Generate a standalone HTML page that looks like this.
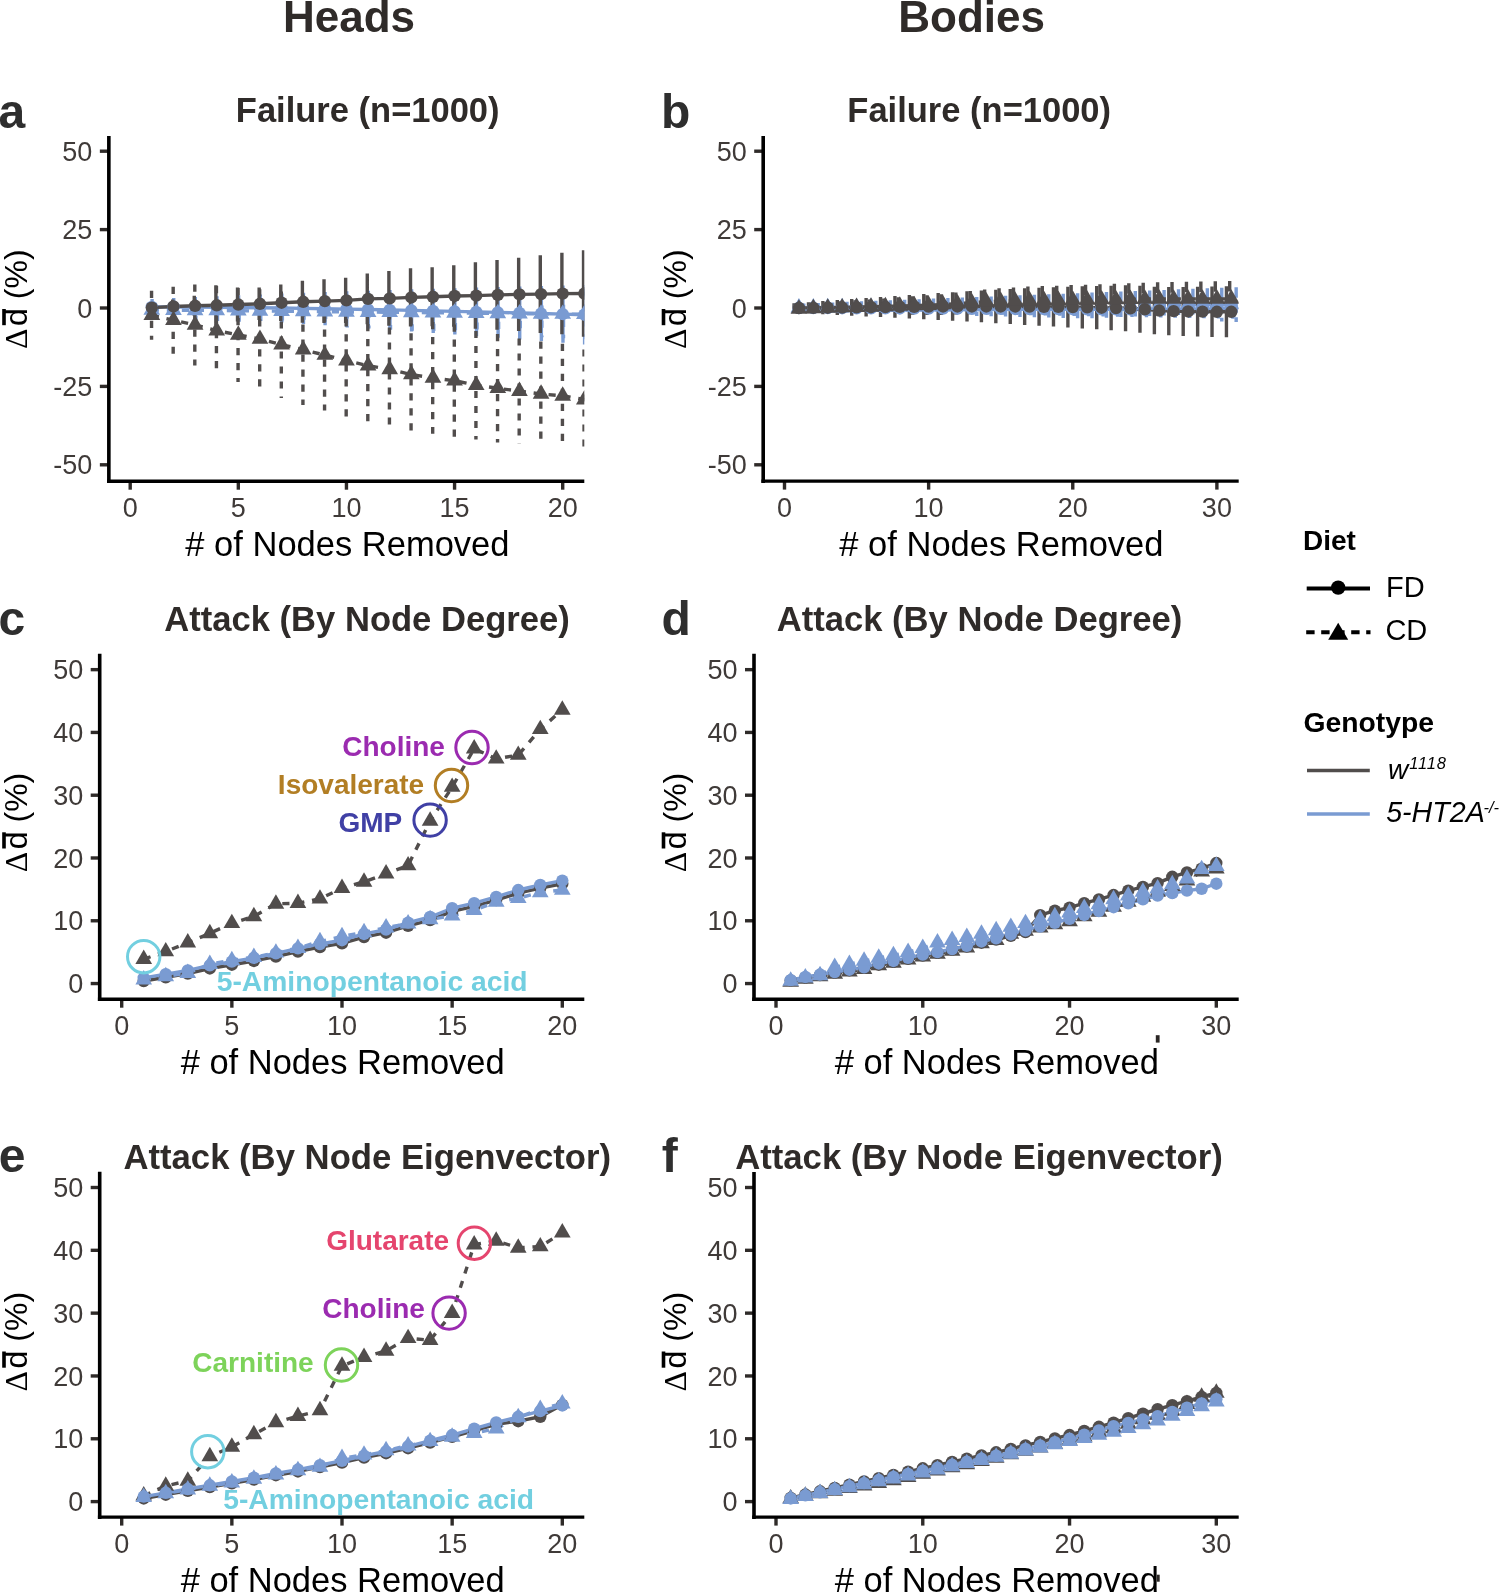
<!DOCTYPE html>
<html><head><meta charset="utf-8"><title>Network robustness</title>
<style>html,body{margin:0;padding:0;background:#fff;overflow:hidden;}svg{display:block;will-change:transform;}</style>
</head><body>
<svg width="1499" height="1593" viewBox="0 0 1499 1593">
<rect width="1499" height="1593" fill="#fff"/>
<text x="349" y="32" font-size="44" font-weight="bold" font-style="normal" text-anchor="middle" fill="#2f2b29" font-family='"Liberation Sans", sans-serif'>Heads</text>
<text x="971.7" y="32" font-size="44" font-weight="bold" font-style="normal" text-anchor="middle" fill="#2f2b29" font-family='"Liberation Sans", sans-serif'>Bodies</text>
<text x="-1.5" y="128.3" font-size="48" font-weight="bold" font-style="normal" text-anchor="start" fill="#2e2e2e" font-family='"Liberation Sans", sans-serif'>a</text>
<text x="661" y="128.3" font-size="48" font-weight="bold" font-style="normal" text-anchor="start" fill="#2e2e2e" font-family='"Liberation Sans", sans-serif'>b</text>
<text x="-1.5" y="635.2" font-size="48" font-weight="bold" font-style="normal" text-anchor="start" fill="#2e2e2e" font-family='"Liberation Sans", sans-serif'>c</text>
<text x="661.5" y="634.9" font-size="48" font-weight="bold" font-style="normal" text-anchor="start" fill="#2e2e2e" font-family='"Liberation Sans", sans-serif'>d</text>
<text x="-1.2" y="1172.2" font-size="48" font-weight="bold" font-style="normal" text-anchor="start" fill="#2e2e2e" font-family='"Liberation Sans", sans-serif'>e</text>
<text x="661.8" y="1171.6" font-size="48" font-weight="bold" font-style="normal" text-anchor="start" fill="#2e2e2e" font-family='"Liberation Sans", sans-serif'>f</text>
<text x="367.7" y="121.6" font-size="34.5" font-weight="bold" font-style="normal" text-anchor="middle" fill="#2f2b29" font-family='"Liberation Sans", sans-serif'>Failure (n=1000)</text>
<text x="979.2" y="121.6" font-size="34.5" font-weight="bold" font-style="normal" text-anchor="middle" fill="#2f2b29" font-family='"Liberation Sans", sans-serif'>Failure (n=1000)</text>
<text x="367" y="630.8" font-size="34.6" font-weight="bold" font-style="normal" text-anchor="middle" fill="#2f2b29" font-family='"Liberation Sans", sans-serif'>Attack (By Node Degree)</text>
<text x="979.5" y="630.8" font-size="34.6" font-weight="bold" font-style="normal" text-anchor="middle" fill="#2f2b29" font-family='"Liberation Sans", sans-serif'>Attack (By Node Degree)</text>
<text x="367.25" y="1169" font-size="34.7" font-weight="bold" font-style="normal" text-anchor="middle" fill="#2f2b29" font-family='"Liberation Sans", sans-serif'>Attack (By Node Eigenvector)</text>
<text x="979" y="1169" font-size="34.7" font-weight="bold" font-style="normal" text-anchor="middle" fill="#2f2b29" font-family='"Liberation Sans", sans-serif'>Attack (By Node Eigenvector)</text>
<clipPath id="clipa"><rect x="110.65" y="136" width="473.65" height="343.5"/></clipPath>
<g clip-path="url(#clipa)">
<path d="M152.09 299.06V314.74M173.72 298.03V315.9M195.34 297.06V317.13M216.97 296.15V318.41M238.59 295.27V319.73M260.22 294.43V321.08M281.84 293.62V322.47M303.47 292.84V323.89M325.09 292.09V325.33M346.72 291.37V326.81M368.34 290.67V328.3M389.97 290V329.83M411.59 289.35V331.38M433.22 288.73V332.95M454.84 288.13V334.54M476.47 287.55V336.15M498.09 286.99V337.79M519.72 286.45V339.45M541.35 285.93V341.12M562.97 285.43V342.82M584.6 284.95V344.53" stroke="#7a9bd2" stroke-width="3.4" fill="none" stroke-linecap="butt"/>
<path d="M152.62 302.04V317.72M174.25 301.4V318.8M195.88 300.76V319.89M217.5 300.11V320.97M239.12 299.47V322.05M260.75 298.83V323.13M282.38 298.18V324.21M304 297.54V325.3M325.62 296.9V326.38M347.25 296.26V327.46M368.88 295.61V328.54M390.5 294.97V329.62M412.12 294.33V330.7M433.75 293.68V331.79M455.38 293.04V332.87M477 292.4V333.95M498.62 291.76V335.03M520.25 291.11V336.11M541.88 290.47V337.2M563.5 289.83V338.28M585.12 289.18V339.36" stroke="#7a9bd2" stroke-width="3.4" fill="none" stroke-linecap="butt" stroke-dasharray="7.2,7.8"/>
<path d="M151.02 302.57V312.61M172.65 299.6V313.39M194.27 295.77V315.84M215.9 285.23V325.37M237.52 287.62V321.48M259.15 287.49V320.1M280.77 284.51V320.89M302.4 280.78V322.8M324.02 279.15V323.05M345.65 277.83V322.99M367.27 273.5V324.31M388.9 271.12V325.69M410.52 268.17V326.5M432.15 267.33V326.28M453.77 265.26V326.72M475.4 262.37V328.85M497.02 260.08V329.7M518.65 257.7V331.08M540.28 255.22V332.99M561.9 252.84V334.37M583.53 250.23V336.79" stroke="#514d4c" stroke-width="3.4" fill="none" stroke-linecap="butt"/>
<path d="M151.55 290.75V339.67M173.18 286.68V353.79M194.8 284.48V365.39M216.43 286.05V375.11M238.05 287.93V382.01M259.68 289.18V388.91M281.31 291.38V398M302.93 294.52V404.9M324.56 299.53V410.55M346.18 304.24V417.13M367.81 308.94V422.46M389.43 312.39V426.54M411.06 318.35V430.62M432.68 322.11V433.75M454.31 324.62V436.89M475.93 330.89V439.4M497.56 334.03V442.53M519.18 338.42V443.79M540.81 341.56V446.3M562.43 343.75V447.87M584.06 349.4V449.75" stroke="#514d4c" stroke-width="3.4" fill="none" stroke-linecap="butt" stroke-dasharray="7.2,7.8"/>
<polyline points="151.82,306.9 173.45,306.97 195.07,307.1 216.7,307.28 238.32,307.5 259.95,307.76 281.57,308.04 303.2,308.36 324.82,308.71 346.45,309.09 368.07,309.49 389.7,309.91 411.32,310.36 432.95,310.84 454.57,311.33 476.2,311.85 497.82,312.39 519.45,312.95 541.08,313.53 562.7,314.12 584.33,314.74" stroke="#7a9bd2" stroke-width="3.4" fill="none" stroke-linejoin="round"/>
<polyline points="151.82,309.88 173.45,310.1 195.07,310.32 216.7,310.54 238.32,310.76 259.95,310.98 281.57,311.2 303.2,311.42 324.82,311.64 346.45,311.86 368.07,312.08 389.7,312.3 411.32,312.52 432.95,312.74 454.57,312.95 476.2,313.17 497.82,313.39 519.45,313.61 541.08,313.83 562.7,314.05 584.33,314.27" stroke="#7a9bd2" stroke-width="3.4" fill="none" stroke-linejoin="round" stroke-dasharray="7.2,7.8"/>
<polyline points="151.82,307.59 173.45,306.49 195.07,305.8 216.7,305.3 238.32,304.55 259.95,303.8 281.57,302.7 303.2,301.79 324.82,301.1 346.45,300.41 368.07,298.91 389.7,298.4 411.32,297.34 432.95,296.8 454.57,295.99 476.2,295.61 497.82,294.89 519.45,294.39 541.08,294.11 562.7,293.61 584.33,293.51" stroke="#514d4c" stroke-width="3.4" fill="none" stroke-linejoin="round"/>
<polyline points="151.82,315.21 173.45,320.23 195.07,324.93 216.7,330.58 238.32,334.97 259.95,339.05 281.57,344.69 303.2,349.71 324.82,355.04 346.45,360.68 368.07,365.7 389.7,369.47 411.32,374.48 432.95,377.93 454.57,380.76 476.2,385.15 497.82,388.28 519.45,391.1 541.08,393.93 562.7,395.81 584.33,399.57" stroke="#514d4c" stroke-width="3.4" fill="none" stroke-linejoin="round" stroke-dasharray="7.2,7.8"/>
<g fill="#7a9bd2"><circle cx="151.82" cy="306.9" r="6.2"/><circle cx="173.45" cy="306.97" r="6.2"/><circle cx="195.07" cy="307.1" r="6.2"/><circle cx="216.7" cy="307.28" r="6.2"/><circle cx="238.32" cy="307.5" r="6.2"/><circle cx="259.95" cy="307.76" r="6.2"/><circle cx="281.57" cy="308.04" r="6.2"/><circle cx="303.2" cy="308.36" r="6.2"/><circle cx="324.82" cy="308.71" r="6.2"/><circle cx="346.45" cy="309.09" r="6.2"/><circle cx="368.07" cy="309.49" r="6.2"/><circle cx="389.7" cy="309.91" r="6.2"/><circle cx="411.32" cy="310.36" r="6.2"/><circle cx="432.95" cy="310.84" r="6.2"/><circle cx="454.57" cy="311.33" r="6.2"/><circle cx="476.2" cy="311.85" r="6.2"/><circle cx="497.82" cy="312.39" r="6.2"/><circle cx="519.45" cy="312.95" r="6.2"/><circle cx="541.08" cy="313.53" r="6.2"/><circle cx="562.7" cy="314.12" r="6.2"/><circle cx="584.33" cy="314.74" r="6.2"/></g>
<g fill="#7a9bd2"><polygon points="151.82,300.24 160.18,314.7 143.47,314.7"/><polygon points="173.45,300.46 181.8,314.92 165.1,314.92"/><polygon points="195.07,300.68 203.43,315.14 186.72,315.14"/><polygon points="216.7,300.9 225.05,315.36 208.35,315.36"/><polygon points="238.32,301.12 246.68,315.58 229.97,315.58"/><polygon points="259.95,301.34 268.3,315.8 251.6,315.8"/><polygon points="281.57,301.56 289.93,316.02 273.22,316.02"/><polygon points="303.2,301.78 311.55,316.24 294.85,316.24"/><polygon points="324.82,302 333.18,316.46 316.47,316.46"/><polygon points="346.45,302.22 354.8,316.68 338.1,316.68"/><polygon points="368.07,302.44 376.43,316.9 359.72,316.9"/><polygon points="389.7,302.65 398.05,317.12 381.35,317.12"/><polygon points="411.32,302.87 419.68,317.34 402.97,317.34"/><polygon points="432.95,303.09 441.3,317.56 424.6,317.56"/><polygon points="454.57,303.31 462.93,317.78 446.22,317.78"/><polygon points="476.2,303.53 484.55,318 467.85,318"/><polygon points="497.82,303.75 506.18,318.22 489.47,318.22"/><polygon points="519.45,303.97 527.8,318.43 511.1,318.43"/><polygon points="541.08,304.19 549.43,318.65 532.72,318.65"/><polygon points="562.7,304.41 571.05,318.87 554.35,318.87"/><polygon points="584.33,304.63 592.68,319.09 575.97,319.09"/></g>
<g fill="#514d4c"><circle cx="151.82" cy="307.59" r="6.2"/><circle cx="173.45" cy="306.49" r="6.2"/><circle cx="195.07" cy="305.8" r="6.2"/><circle cx="216.7" cy="305.3" r="6.2"/><circle cx="238.32" cy="304.55" r="6.2"/><circle cx="259.95" cy="303.8" r="6.2"/><circle cx="281.57" cy="302.7" r="6.2"/><circle cx="303.2" cy="301.79" r="6.2"/><circle cx="324.82" cy="301.1" r="6.2"/><circle cx="346.45" cy="300.41" r="6.2"/><circle cx="368.07" cy="298.91" r="6.2"/><circle cx="389.7" cy="298.4" r="6.2"/><circle cx="411.32" cy="297.34" r="6.2"/><circle cx="432.95" cy="296.8" r="6.2"/><circle cx="454.57" cy="295.99" r="6.2"/><circle cx="476.2" cy="295.61" r="6.2"/><circle cx="497.82" cy="294.89" r="6.2"/><circle cx="519.45" cy="294.39" r="6.2"/><circle cx="541.08" cy="294.11" r="6.2"/><circle cx="562.7" cy="293.61" r="6.2"/><circle cx="584.33" cy="293.51" r="6.2"/></g>
<g fill="#514d4c"><polygon points="151.82,305.57 160.18,320.03 143.47,320.03"/><polygon points="173.45,310.59 181.8,325.05 165.1,325.05"/><polygon points="195.07,315.29 203.43,329.76 186.72,329.76"/><polygon points="216.7,320.94 225.05,335.4 208.35,335.4"/><polygon points="238.32,325.33 246.68,339.79 229.97,339.79"/><polygon points="259.95,329.4 268.3,343.87 251.6,343.87"/><polygon points="281.57,335.05 289.93,349.51 273.22,349.51"/><polygon points="303.2,340.07 311.55,354.53 294.85,354.53"/><polygon points="324.82,345.4 333.18,359.86 316.47,359.86"/><polygon points="346.45,351.04 354.8,365.51 338.1,365.51"/><polygon points="368.07,356.06 376.43,370.52 359.72,370.52"/><polygon points="389.7,359.82 398.05,374.29 381.35,374.29"/><polygon points="411.32,364.84 419.68,379.3 402.97,379.3"/><polygon points="432.95,368.29 441.3,382.75 424.6,382.75"/><polygon points="454.57,371.11 462.93,385.58 446.22,385.58"/><polygon points="476.2,375.5 484.55,389.97 467.85,389.97"/><polygon points="497.82,378.64 506.18,393.1 489.47,393.1"/><polygon points="519.45,381.46 527.8,395.93 511.1,395.93"/><polygon points="541.08,384.28 549.43,398.75 532.72,398.75"/><polygon points="562.7,386.17 571.05,400.63 554.35,400.63"/><polygon points="584.33,389.93 592.68,404.39 575.97,404.39"/></g>
</g>
<clipPath id="clipb"><rect x="765" y="135.9" width="473.7" height="343.5"/></clipPath>
<g clip-path="url(#clipb)">
<path d="M800.53 306.43V309.57M814.95 306.31V309.82M829.36 306.18V310.07M843.77 306.06V310.32M858.19 305.93V310.57M872.6 305.8V310.82M887.01 305.68V311.07M901.42 305.55V311.32M915.84 305.43V311.58M930.25 305.3V311.83M944.66 305.18V312.08M959.08 305.05V312.33M973.49 304.93V312.58M987.9 304.8V312.83M1002.31 304.68V313.08M1016.73 304.55V313.33M1031.14 304.42V313.58M1045.55 304.3V313.83M1059.97 304.17V314.08M1074.38 304.05V314.33M1088.79 303.92V314.59M1103.21 303.8V314.84M1117.62 303.67V315.09M1132.03 303.55V315.34M1146.44 303.42V315.59M1160.86 303.3V315.84M1175.27 303.17V316.09M1189.68 303.05V316.34M1204.1 302.92V316.59M1218.51 302.79V316.84M1232.92 302.67V317.09" stroke="#7a9bd2" stroke-width="3.4" fill="none" stroke-linecap="square"/>
<path d="M803.77 305.18V310.2M818.19 304.63V310.53M832.6 304.09V310.86M847.01 303.55V311.2M861.43 303V311.53M875.84 302.46V311.87M890.25 301.92V312.2M904.66 301.37V312.54M919.08 300.83V312.87M933.49 300.29V313.21M947.9 299.74V313.54M962.32 299.2V313.87M976.73 298.65V314.21M991.14 298.11V314.54M1005.55 297.57V314.88M1019.97 297.02V315.21M1034.38 296.48V315.55M1048.79 295.94V315.88M1063.21 295.39V316.22M1077.62 294.85V316.55M1092.03 294.31V316.89M1106.45 293.76V317.22M1120.86 293.22V317.55M1135.27 292.68V317.89M1149.68 292.13V318.22M1164.1 291.59V318.56M1178.51 291.04V318.89M1192.92 290.5V319.23M1207.34 289.96V319.56M1221.75 289.41V319.9M1236.16 288.87V320.23" stroke="#7a9bd2" stroke-width="3.4" fill="none" stroke-linecap="square" stroke-dasharray="7.2,7.8"/>
<path d="M794.05 304.86V311.14M808.47 303.84V311.85M822.88 302.81V312.56M837.29 301.78V313.28M851.71 300.75V313.99M866.12 299.72V314.71M880.53 298.7V315.42M894.94 297.67V316.14M909.36 296.64V316.85M923.77 295.61V317.56M938.18 294.65V318.21M952.6 293.84V319.02M967.01 293.04V319.83M981.42 292.23V320.63M995.83 291.42V321.44M1010.25 290.62V322.25M1024.66 289.97V323.21M1039.07 289.45V324.04M1053.49 288.94V324.87M1067.9 288.42V325.7M1082.31 288.06V326.68M1096.73 287.71V327.67M1111.14 287.35V328.65M1125.55 286.99V329.64M1139.97 287.57V330.94M1154.38 288.47V332.55M1168.79 288.74V333.54M1183.2 288.69V334.21M1197.62 288.49V334.72M1212.03 288.29V335.24M1226.44 287.93V335.6" stroke="#514d4c" stroke-width="3.4" fill="none" stroke-linecap="square"/>
<path d="M797.29 306.12V311.76M811.71 304.9V311.72M826.12 304V312M840.53 302.94V312.12M854.95 302.04V312.39M869.36 301.14V312.66M883.77 300.08V312.78M898.18 299.02V312.9M912.6 297.96V313.02M927.01 297.06V313.29M941.42 295.85V313.25M955.84 294.32V312.9M970.25 292.79V312.55M984.66 291.26V312.19M999.07 290.05V312.16M1013.49 289.14V312.43M1027.9 288.24V312.7M1042.31 287.64V312.68M1056.73 287.35V312.97M1071.14 286.74V312.95M1085.55 286.45V313.24M1099.97 285.85V313.22M1114.38 285.56V313.51M1128.79 284.95V313.49M1143.21 284.35V313.47M1157.62 284.05V313.76M1172.03 283.76V314.05M1186.44 283.47V314.34M1200.86 283.18V314.63M1215.27 282.89V314.92M1229.68 282.6V315.21" stroke="#514d4c" stroke-width="3.4" fill="none" stroke-linecap="square" stroke-dasharray="7.2,7.8"/>
<polyline points="798.91,308 813.33,308.06 827.74,308.13 842.15,308.19 856.57,308.25 870.98,308.31 885.39,308.38 899.8,308.44 914.22,308.5 928.63,308.56 943.04,308.63 957.46,308.69 971.87,308.75 986.28,308.82 1000.69,308.88 1015.11,308.94 1029.52,309 1043.93,309.07 1058.35,309.13 1072.76,309.19 1087.17,309.25 1101.59,309.32 1116,309.38 1130.41,309.44 1144.83,309.51 1159.24,309.57 1173.65,309.63 1188.06,309.69 1202.48,309.76 1216.89,309.82 1231.3,309.88" stroke="#7a9bd2" stroke-width="3.4" fill="none" stroke-linejoin="round"/>
<polyline points="798.91,307.69 813.33,307.58 827.74,307.48 842.15,307.37 856.57,307.27 870.98,307.16 885.39,307.06 899.8,306.95 914.22,306.85 928.63,306.75 943.04,306.64 957.46,306.54 971.87,306.43 986.28,306.33 1000.69,306.22 1015.11,306.12 1029.52,306.01 1043.93,305.91 1058.35,305.8 1072.76,305.7 1087.17,305.6 1101.59,305.49 1116,305.39 1130.41,305.28 1144.83,305.18 1159.24,305.07 1173.65,304.97 1188.06,304.86 1202.48,304.76 1216.89,304.65 1231.3,304.55" stroke="#7a9bd2" stroke-width="3.4" fill="none" stroke-linejoin="round" stroke-dasharray="7.2,7.8"/>
<polyline points="798.91,308 813.33,307.84 827.74,307.69 842.15,307.53 856.57,307.37 870.98,307.22 885.39,307.06 899.8,306.9 914.22,306.75 928.63,306.59 943.04,306.43 957.46,306.43 971.87,306.43 986.28,306.43 1000.69,306.43 1015.11,306.43 1029.52,306.59 1043.93,306.75 1058.35,306.9 1072.76,307.06 1087.17,307.37 1101.59,307.69 1116,308 1130.41,308.31 1144.83,309.25 1159.24,310.51 1173.65,311.14 1188.06,311.45 1202.48,311.61 1216.89,311.76 1231.3,311.76" stroke="#514d4c" stroke-width="3.4" fill="none" stroke-linejoin="round"/>
<polyline points="798.91,308.94 813.33,308.31 827.74,308 842.15,307.53 856.57,307.22 870.98,306.9 885.39,306.43 899.8,305.96 914.22,305.49 928.63,305.18 943.04,304.55 957.46,303.61 971.87,302.67 986.28,301.73 1000.69,301.1 1015.11,300.79 1029.52,300.47 1043.93,300.16 1058.35,300.16 1072.76,299.85 1087.17,299.85 1101.59,299.53 1116,299.53 1130.41,299.22 1144.83,298.91 1159.24,298.91 1173.65,298.91 1188.06,298.91 1202.48,298.91 1216.89,298.91 1231.3,298.91" stroke="#514d4c" stroke-width="3.4" fill="none" stroke-linejoin="round" stroke-dasharray="7.2,7.8"/>
<g fill="#7a9bd2"><circle cx="798.91" cy="308" r="6.2"/><circle cx="813.33" cy="308.06" r="6.2"/><circle cx="827.74" cy="308.13" r="6.2"/><circle cx="842.15" cy="308.19" r="6.2"/><circle cx="856.57" cy="308.25" r="6.2"/><circle cx="870.98" cy="308.31" r="6.2"/><circle cx="885.39" cy="308.38" r="6.2"/><circle cx="899.8" cy="308.44" r="6.2"/><circle cx="914.22" cy="308.5" r="6.2"/><circle cx="928.63" cy="308.56" r="6.2"/><circle cx="943.04" cy="308.63" r="6.2"/><circle cx="957.46" cy="308.69" r="6.2"/><circle cx="971.87" cy="308.75" r="6.2"/><circle cx="986.28" cy="308.82" r="6.2"/><circle cx="1000.69" cy="308.88" r="6.2"/><circle cx="1015.11" cy="308.94" r="6.2"/><circle cx="1029.52" cy="309" r="6.2"/><circle cx="1043.93" cy="309.07" r="6.2"/><circle cx="1058.35" cy="309.13" r="6.2"/><circle cx="1072.76" cy="309.19" r="6.2"/><circle cx="1087.17" cy="309.25" r="6.2"/><circle cx="1101.59" cy="309.32" r="6.2"/><circle cx="1116" cy="309.38" r="6.2"/><circle cx="1130.41" cy="309.44" r="6.2"/><circle cx="1144.83" cy="309.51" r="6.2"/><circle cx="1159.24" cy="309.57" r="6.2"/><circle cx="1173.65" cy="309.63" r="6.2"/><circle cx="1188.06" cy="309.69" r="6.2"/><circle cx="1202.48" cy="309.76" r="6.2"/><circle cx="1216.89" cy="309.82" r="6.2"/><circle cx="1231.3" cy="309.88" r="6.2"/></g>
<g fill="#7a9bd2"><polygon points="798.91,298.04 807.26,312.51 790.56,312.51"/><polygon points="813.33,297.94 821.68,312.4 804.98,312.4"/><polygon points="827.74,297.84 836.09,312.3 819.39,312.3"/><polygon points="842.15,297.73 850.5,312.19 833.8,312.19"/><polygon points="856.57,297.63 864.92,312.09 848.21,312.09"/><polygon points="870.98,297.52 879.33,311.98 862.63,311.98"/><polygon points="885.39,297.42 893.74,311.88 877.04,311.88"/><polygon points="899.8,297.31 908.15,311.78 891.45,311.78"/><polygon points="914.22,297.21 922.57,311.67 905.87,311.67"/><polygon points="928.63,297.1 936.98,311.57 920.28,311.57"/><polygon points="943.04,297 951.39,311.46 934.69,311.46"/><polygon points="957.46,296.89 965.81,311.36 949.11,311.36"/><polygon points="971.87,296.79 980.22,311.25 963.52,311.25"/><polygon points="986.28,296.69 994.63,311.15 977.93,311.15"/><polygon points="1000.69,296.58 1009.05,311.04 992.34,311.04"/><polygon points="1015.11,296.48 1023.46,310.94 1006.76,310.94"/><polygon points="1029.52,296.37 1037.87,310.83 1021.17,310.83"/><polygon points="1043.93,296.27 1052.28,310.73 1035.58,310.73"/><polygon points="1058.35,296.16 1066.7,310.63 1050,310.63"/><polygon points="1072.76,296.06 1081.11,310.52 1064.41,310.52"/><polygon points="1087.17,295.95 1095.52,310.42 1078.82,310.42"/><polygon points="1101.59,295.85 1109.94,310.31 1093.24,310.31"/><polygon points="1116,295.75 1124.35,310.21 1107.65,310.21"/><polygon points="1130.41,295.64 1138.76,310.1 1122.06,310.1"/><polygon points="1144.83,295.54 1153.18,310 1136.47,310"/><polygon points="1159.24,295.43 1167.59,309.89 1150.89,309.89"/><polygon points="1173.65,295.33 1182,309.79 1165.3,309.79"/><polygon points="1188.06,295.22 1196.41,309.69 1179.71,309.69"/><polygon points="1202.48,295.12 1210.83,309.58 1194.13,309.58"/><polygon points="1216.89,295.01 1225.24,309.48 1208.54,309.48"/><polygon points="1231.3,294.91 1239.65,309.37 1222.95,309.37"/></g>
<g fill="#514d4c"><circle cx="798.91" cy="308" r="6.2"/><circle cx="813.33" cy="307.84" r="6.2"/><circle cx="827.74" cy="307.69" r="6.2"/><circle cx="842.15" cy="307.53" r="6.2"/><circle cx="856.57" cy="307.37" r="6.2"/><circle cx="870.98" cy="307.22" r="6.2"/><circle cx="885.39" cy="307.06" r="6.2"/><circle cx="899.8" cy="306.9" r="6.2"/><circle cx="914.22" cy="306.75" r="6.2"/><circle cx="928.63" cy="306.59" r="6.2"/><circle cx="943.04" cy="306.43" r="6.2"/><circle cx="957.46" cy="306.43" r="6.2"/><circle cx="971.87" cy="306.43" r="6.2"/><circle cx="986.28" cy="306.43" r="6.2"/><circle cx="1000.69" cy="306.43" r="6.2"/><circle cx="1015.11" cy="306.43" r="6.2"/><circle cx="1029.52" cy="306.59" r="6.2"/><circle cx="1043.93" cy="306.75" r="6.2"/><circle cx="1058.35" cy="306.9" r="6.2"/><circle cx="1072.76" cy="307.06" r="6.2"/><circle cx="1087.17" cy="307.37" r="6.2"/><circle cx="1101.59" cy="307.69" r="6.2"/><circle cx="1116" cy="308" r="6.2"/><circle cx="1130.41" cy="308.31" r="6.2"/><circle cx="1144.83" cy="309.25" r="6.2"/><circle cx="1159.24" cy="310.51" r="6.2"/><circle cx="1173.65" cy="311.14" r="6.2"/><circle cx="1188.06" cy="311.45" r="6.2"/><circle cx="1202.48" cy="311.61" r="6.2"/><circle cx="1216.89" cy="311.76" r="6.2"/><circle cx="1231.3" cy="311.76" r="6.2"/></g>
<g fill="#514d4c"><polygon points="798.91,299.3 807.26,313.76 790.56,313.76"/><polygon points="813.33,298.67 821.68,313.13 804.98,313.13"/><polygon points="827.74,298.36 836.09,312.82 819.39,312.82"/><polygon points="842.15,297.89 850.5,312.35 833.8,312.35"/><polygon points="856.57,297.57 864.92,312.04 848.21,312.04"/><polygon points="870.98,297.26 879.33,311.72 862.63,311.72"/><polygon points="885.39,296.79 893.74,311.25 877.04,311.25"/><polygon points="899.8,296.32 908.15,310.78 891.45,310.78"/><polygon points="914.22,295.85 922.57,310.31 905.87,310.31"/><polygon points="928.63,295.54 936.98,310 920.28,310"/><polygon points="943.04,294.91 951.39,309.37 934.69,309.37"/><polygon points="957.46,293.97 965.81,308.43 949.11,308.43"/><polygon points="971.87,293.03 980.22,307.49 963.52,307.49"/><polygon points="986.28,292.09 994.63,306.55 977.93,306.55"/><polygon points="1000.69,291.46 1009.05,305.92 992.34,305.92"/><polygon points="1015.11,291.15 1023.46,305.61 1006.76,305.61"/><polygon points="1029.52,290.83 1037.87,305.29 1021.17,305.29"/><polygon points="1043.93,290.52 1052.28,304.98 1035.58,304.98"/><polygon points="1058.35,290.52 1066.7,304.98 1050,304.98"/><polygon points="1072.76,290.2 1081.11,304.67 1064.41,304.67"/><polygon points="1087.17,290.2 1095.52,304.67 1078.82,304.67"/><polygon points="1101.59,289.89 1109.94,304.35 1093.24,304.35"/><polygon points="1116,289.89 1124.35,304.35 1107.65,304.35"/><polygon points="1130.41,289.58 1138.76,304.04 1122.06,304.04"/><polygon points="1144.83,289.26 1153.18,303.73 1136.47,303.73"/><polygon points="1159.24,289.26 1167.59,303.73 1150.89,303.73"/><polygon points="1173.65,289.26 1182,303.73 1165.3,303.73"/><polygon points="1188.06,289.26 1196.41,303.73 1179.71,303.73"/><polygon points="1202.48,289.26 1210.83,303.73 1194.13,303.73"/><polygon points="1216.89,289.26 1225.24,303.73 1208.54,303.73"/><polygon points="1231.3,289.26 1239.65,303.73 1222.95,303.73"/></g>
</g>
<clipPath id="clipc"><rect x="101.5" y="653.7" width="482.8" height="343.8"/></clipPath>
<g clip-path="url(#clipc)">
<polyline points="143.73,981.04 165.76,977.27 187.79,973.51 209.82,968.48 231.85,964.72 253.88,960.95 275.91,956.55 297.94,951.53 319.97,947.14 342,943.37 364.03,937.09 386.06,932.7 408.09,925.79 430.12,920.14 452.15,911.35 474.18,906.33 496.21,900.05 518.24,893.15 540.27,888.12 562.3,883.73" stroke="#514d4c" stroke-width="3.4" fill="none" stroke-linejoin="round"/>
<polyline points="143.73,959.07 165.76,951.53 187.79,942.74 209.82,933.33 231.85,923.28 253.88,916.38 275.91,903.82 297.94,903.19 319.97,898.8 342,888.12 364.03,881.85 386.06,873.68 408.09,865.52 430.12,820.95 452.15,787.05 474.18,748.75 496.21,758.8 518.24,755.03 540.27,729.29 562.3,709.83" stroke="#514d4c" stroke-width="3.4" fill="none" stroke-linejoin="round" stroke-dasharray="7.2,7.8"/>
<polyline points="143.73,977.9 165.76,974.13 187.79,970.37 209.82,965.34 231.85,961.58 253.88,957.81 275.91,953.42 297.94,948.39 319.97,944 342,940.23 364.03,933.95 386.06,929.56 408.09,922.65 430.12,917 452.15,908.21 474.18,903.19 496.21,896.91 518.24,890.01 540.27,884.99 562.3,880.59" stroke="#7a9bd2" stroke-width="3.4" fill="none" stroke-linejoin="round"/>
<polyline points="143.73,979.72 165.76,976.39 187.79,973.07 209.82,964.09 231.85,960.32 253.88,957.18 275.91,952.79 297.94,948.08 319.97,941.49 342,936.46 364.03,932.38 386.06,927.68 408.09,923.6 430.12,919.51 452.15,915.75 474.18,910.1 496.21,901.94 518.24,898.17 540.27,892.52 562.3,890.01" stroke="#7a9bd2" stroke-width="3.4" fill="none" stroke-linejoin="round" stroke-dasharray="7.2,7.8"/>
<g fill="#514d4c"><circle cx="143.73" cy="981.04" r="6.2"/><circle cx="165.76" cy="977.27" r="6.2"/><circle cx="187.79" cy="973.51" r="6.2"/><circle cx="209.82" cy="968.48" r="6.2"/><circle cx="231.85" cy="964.72" r="6.2"/><circle cx="253.88" cy="960.95" r="6.2"/><circle cx="275.91" cy="956.55" r="6.2"/><circle cx="297.94" cy="951.53" r="6.2"/><circle cx="319.97" cy="947.14" r="6.2"/><circle cx="342" cy="943.37" r="6.2"/><circle cx="364.03" cy="937.09" r="6.2"/><circle cx="386.06" cy="932.7" r="6.2"/><circle cx="408.09" cy="925.79" r="6.2"/><circle cx="430.12" cy="920.14" r="6.2"/><circle cx="452.15" cy="911.35" r="6.2"/><circle cx="474.18" cy="906.33" r="6.2"/><circle cx="496.21" cy="900.05" r="6.2"/><circle cx="518.24" cy="893.15" r="6.2"/><circle cx="540.27" cy="888.12" r="6.2"/><circle cx="562.3" cy="883.73" r="6.2"/></g>
<g fill="#514d4c"><polygon points="143.73,949.42 152.08,963.89 135.38,963.89"/><polygon points="165.76,941.89 174.11,956.35 157.41,956.35"/><polygon points="187.79,933.1 196.14,947.56 179.44,947.56"/><polygon points="209.82,923.68 218.17,938.15 201.47,938.15"/><polygon points="231.85,913.64 240.2,928.1 223.5,928.1"/><polygon points="253.88,906.73 262.23,921.2 245.53,921.2"/><polygon points="275.91,894.18 284.26,908.64 267.56,908.64"/><polygon points="297.94,893.55 306.29,908.01 289.59,908.01"/><polygon points="319.97,889.16 328.32,903.62 311.62,903.62"/><polygon points="342,878.48 350.35,892.95 333.65,892.95"/><polygon points="364.03,872.2 372.38,886.67 355.68,886.67"/><polygon points="386.06,864.04 394.41,878.51 377.71,878.51"/><polygon points="408.09,855.88 416.44,870.34 399.74,870.34"/><polygon points="430.12,811.31 438.47,825.77 421.77,825.77"/><polygon points="452.15,777.41 460.5,791.87 443.8,791.87"/><polygon points="474.18,739.11 482.53,753.57 465.83,753.57"/><polygon points="496.21,749.16 504.56,763.62 487.86,763.62"/><polygon points="518.24,745.39 526.59,759.85 509.89,759.85"/><polygon points="540.27,719.65 548.62,734.11 531.92,734.11"/><polygon points="562.3,700.19 570.65,714.65 553.95,714.65"/></g>
<g fill="#7a9bd2"><circle cx="143.73" cy="977.9" r="6.2"/><circle cx="165.76" cy="974.13" r="6.2"/><circle cx="187.79" cy="970.37" r="6.2"/><circle cx="209.82" cy="965.34" r="6.2"/><circle cx="231.85" cy="961.58" r="6.2"/><circle cx="253.88" cy="957.81" r="6.2"/><circle cx="275.91" cy="953.42" r="6.2"/><circle cx="297.94" cy="948.39" r="6.2"/><circle cx="319.97" cy="944" r="6.2"/><circle cx="342" cy="940.23" r="6.2"/><circle cx="364.03" cy="933.95" r="6.2"/><circle cx="386.06" cy="929.56" r="6.2"/><circle cx="408.09" cy="922.65" r="6.2"/><circle cx="430.12" cy="917" r="6.2"/><circle cx="452.15" cy="908.21" r="6.2"/><circle cx="474.18" cy="903.19" r="6.2"/><circle cx="496.21" cy="896.91" r="6.2"/><circle cx="518.24" cy="890.01" r="6.2"/><circle cx="540.27" cy="884.99" r="6.2"/><circle cx="562.3" cy="880.59" r="6.2"/></g>
<g fill="#7a9bd2"><polygon points="143.73,970.08 152.08,984.54 135.38,984.54"/><polygon points="165.76,966.75 174.11,981.21 157.41,981.21"/><polygon points="187.79,963.42 196.14,977.89 179.44,977.89"/><polygon points="209.82,954.45 218.17,968.91 201.47,968.91"/><polygon points="231.85,950.68 240.2,965.14 223.5,965.14"/><polygon points="253.88,947.54 262.23,962 245.53,962"/><polygon points="275.91,943.15 284.26,957.61 267.56,957.61"/><polygon points="297.94,938.44 306.29,952.9 289.59,952.9"/><polygon points="319.97,931.85 328.32,946.31 311.62,946.31"/><polygon points="342,926.82 350.35,941.29 333.65,941.29"/><polygon points="364.03,922.74 372.38,937.21 355.68,937.21"/><polygon points="386.06,918.03 394.41,932.5 377.71,932.5"/><polygon points="408.09,913.95 416.44,928.42 399.74,928.42"/><polygon points="430.12,909.87 438.47,924.34 421.77,924.34"/><polygon points="452.15,906.11 460.5,920.57 443.8,920.57"/><polygon points="474.18,900.46 482.53,914.92 465.83,914.92"/><polygon points="496.21,892.29 504.56,906.76 487.86,906.76"/><polygon points="518.24,888.53 526.59,902.99 509.89,902.99"/><polygon points="540.27,882.88 548.62,897.34 531.92,897.34"/><polygon points="562.3,880.37 570.65,894.83 553.95,894.83"/></g>
</g>
<clipPath id="clipd"><rect x="755.8" y="653.7" width="482.9" height="343.8"/></clipPath>
<g clip-path="url(#clipd)">
<polyline points="790.68,980.41 805.35,977.59 820.03,975.07 834.71,972.56 849.38,970.37 864.06,967.85 878.74,964.72 893.42,961.89 908.09,958.75 922.77,955.61 937.45,952.79 952.12,949.65 966.8,946.51 981.48,942.74 996.15,939.6 1010.83,935.84 1025.51,932.07 1040.19,915.12 1054.86,910.73 1069.54,907.59 1084.22,903.19 1098.89,899.42 1113.57,895.03 1128.25,890.64 1142.92,886.87 1157.6,883.1 1172.28,876.82 1186.96,872.43 1201.63,868.66 1216.31,863.01" stroke="#514d4c" stroke-width="3.4" fill="none" stroke-linejoin="round"/>
<polyline points="790.68,982.04 805.35,978.84 820.03,976.46 834.71,973.94 849.38,971.62 864.06,969.24 878.74,965.34 893.42,962.83 908.09,959.69 922.77,956.55 937.45,954.04 952.12,950.9 966.8,947.77 981.48,943.37 996.15,940.23 1010.83,933.95 1025.51,930.81 1040.19,927.68 1054.86,924.54 1069.54,921.4 1084.22,916.38 1098.89,911.98 1113.57,906.96 1128.25,901.94 1142.92,896.91 1157.6,891.89 1172.28,886.24 1186.96,880.59 1201.63,871.8 1216.31,868.66" stroke="#514d4c" stroke-width="3.4" fill="none" stroke-linejoin="round" stroke-dasharray="7.2,7.8"/>
<polyline points="790.68,980.16 805.35,976.96 820.03,974.57 834.71,972.06 849.38,969.74 864.06,967.35 878.74,963.46 893.42,960.95 908.09,957.81 922.77,954.67 937.45,952.16 952.12,949.02 966.8,945.88 981.48,941.49 996.15,938.35 1010.83,934.46 1025.51,930.56 1040.19,926.67 1054.86,922.78 1069.54,918.89 1084.22,914.99 1098.89,911.1 1113.57,907.21 1128.25,903.32 1142.92,899.42 1157.6,895.66 1172.28,893.15 1186.96,890.64 1201.63,888.75 1216.31,883.73" stroke="#7a9bd2" stroke-width="3.4" fill="none" stroke-linejoin="round"/>
<polyline points="790.68,980.91 805.35,977.71 820.03,975.33 834.71,967.23 849.38,964.09 864.06,960.95 878.74,957.81 893.42,955.3 908.09,952.16 922.77,948.08 937.45,942.74 952.12,940.23 966.8,937.09 981.48,933.95 996.15,930.5 1010.83,927.05 1025.51,923.28 1040.19,919.51 1054.86,916.38 1069.54,912.61 1084.22,908.21 1098.89,904.45 1113.57,899.42 1128.25,895.66 1142.92,891.89 1157.6,888.75 1172.28,884.36 1186.96,878.71 1201.63,869.29 1216.31,866.15" stroke="#7a9bd2" stroke-width="3.4" fill="none" stroke-linejoin="round" stroke-dasharray="7.2,7.8"/>
<g fill="#514d4c"><circle cx="790.68" cy="980.41" r="6.2"/><circle cx="805.35" cy="977.59" r="6.2"/><circle cx="820.03" cy="975.07" r="6.2"/><circle cx="834.71" cy="972.56" r="6.2"/><circle cx="849.38" cy="970.37" r="6.2"/><circle cx="864.06" cy="967.85" r="6.2"/><circle cx="878.74" cy="964.72" r="6.2"/><circle cx="893.42" cy="961.89" r="6.2"/><circle cx="908.09" cy="958.75" r="6.2"/><circle cx="922.77" cy="955.61" r="6.2"/><circle cx="937.45" cy="952.79" r="6.2"/><circle cx="952.12" cy="949.65" r="6.2"/><circle cx="966.8" cy="946.51" r="6.2"/><circle cx="981.48" cy="942.74" r="6.2"/><circle cx="996.15" cy="939.6" r="6.2"/><circle cx="1010.83" cy="935.84" r="6.2"/><circle cx="1025.51" cy="932.07" r="6.2"/><circle cx="1040.19" cy="915.12" r="6.2"/><circle cx="1054.86" cy="910.73" r="6.2"/><circle cx="1069.54" cy="907.59" r="6.2"/><circle cx="1084.22" cy="903.19" r="6.2"/><circle cx="1098.89" cy="899.42" r="6.2"/><circle cx="1113.57" cy="895.03" r="6.2"/><circle cx="1128.25" cy="890.64" r="6.2"/><circle cx="1142.92" cy="886.87" r="6.2"/><circle cx="1157.6" cy="883.1" r="6.2"/><circle cx="1172.28" cy="876.82" r="6.2"/><circle cx="1186.96" cy="872.43" r="6.2"/><circle cx="1201.63" cy="868.66" r="6.2"/><circle cx="1216.31" cy="863.01" r="6.2"/></g>
<g fill="#514d4c"><polygon points="790.68,972.4 799.03,986.86 782.33,986.86"/><polygon points="805.35,969.2 813.7,983.66 797,983.66"/><polygon points="820.03,966.81 828.38,981.28 811.68,981.28"/><polygon points="834.71,964.3 843.06,978.77 826.36,978.77"/><polygon points="849.38,961.98 857.74,976.44 841.03,976.44"/><polygon points="864.06,959.59 872.41,974.06 855.71,974.06"/><polygon points="878.74,955.7 887.09,970.16 870.39,970.16"/><polygon points="893.42,953.19 901.77,967.65 885.07,967.65"/><polygon points="908.09,950.05 916.44,964.51 899.74,964.51"/><polygon points="922.77,946.91 931.12,961.38 914.42,961.38"/><polygon points="937.45,944.4 945.8,958.86 929.1,958.86"/><polygon points="952.12,941.26 960.47,955.73 943.77,955.73"/><polygon points="966.8,938.12 975.15,952.59 958.45,952.59"/><polygon points="981.48,933.73 989.83,948.19 973.13,948.19"/><polygon points="996.15,930.59 1004.51,945.05 987.8,945.05"/><polygon points="1010.83,924.31 1019.18,938.77 1002.48,938.77"/><polygon points="1025.51,921.17 1033.86,935.64 1017.16,935.64"/><polygon points="1040.19,918.03 1048.54,932.5 1031.84,932.5"/><polygon points="1054.86,914.9 1063.21,929.36 1046.51,929.36"/><polygon points="1069.54,911.76 1077.89,926.22 1061.19,926.22"/><polygon points="1084.22,906.73 1092.57,921.2 1075.87,921.2"/><polygon points="1098.89,902.34 1107.24,916.8 1090.54,916.8"/><polygon points="1113.57,897.32 1121.92,911.78 1105.22,911.78"/><polygon points="1128.25,892.29 1136.6,906.76 1119.9,906.76"/><polygon points="1142.92,887.27 1151.28,901.73 1134.57,901.73"/><polygon points="1157.6,882.25 1165.95,896.71 1149.25,896.71"/><polygon points="1172.28,876.6 1180.63,891.06 1163.93,891.06"/><polygon points="1186.96,870.95 1195.31,885.41 1178.61,885.41"/><polygon points="1201.63,862.16 1209.98,876.62 1193.28,876.62"/><polygon points="1216.31,859.02 1224.66,873.48 1207.96,873.48"/></g>
<g fill="#7a9bd2"><circle cx="790.68" cy="980.16" r="6.2"/><circle cx="805.35" cy="976.96" r="6.2"/><circle cx="820.03" cy="974.57" r="6.2"/><circle cx="834.71" cy="972.06" r="6.2"/><circle cx="849.38" cy="969.74" r="6.2"/><circle cx="864.06" cy="967.35" r="6.2"/><circle cx="878.74" cy="963.46" r="6.2"/><circle cx="893.42" cy="960.95" r="6.2"/><circle cx="908.09" cy="957.81" r="6.2"/><circle cx="922.77" cy="954.67" r="6.2"/><circle cx="937.45" cy="952.16" r="6.2"/><circle cx="952.12" cy="949.02" r="6.2"/><circle cx="966.8" cy="945.88" r="6.2"/><circle cx="981.48" cy="941.49" r="6.2"/><circle cx="996.15" cy="938.35" r="6.2"/><circle cx="1010.83" cy="934.46" r="6.2"/><circle cx="1025.51" cy="930.56" r="6.2"/><circle cx="1040.19" cy="926.67" r="6.2"/><circle cx="1054.86" cy="922.78" r="6.2"/><circle cx="1069.54" cy="918.89" r="6.2"/><circle cx="1084.22" cy="914.99" r="6.2"/><circle cx="1098.89" cy="911.1" r="6.2"/><circle cx="1113.57" cy="907.21" r="6.2"/><circle cx="1128.25" cy="903.32" r="6.2"/><circle cx="1142.92" cy="899.42" r="6.2"/><circle cx="1157.6" cy="895.66" r="6.2"/><circle cx="1172.28" cy="893.15" r="6.2"/><circle cx="1186.96" cy="890.64" r="6.2"/><circle cx="1201.63" cy="888.75" r="6.2"/><circle cx="1216.31" cy="883.73" r="6.2"/></g>
<g fill="#7a9bd2"><polygon points="790.68,971.27 799.03,985.73 782.33,985.73"/><polygon points="805.35,968.07 813.7,982.53 797,982.53"/><polygon points="820.03,965.68 828.38,980.15 811.68,980.15"/><polygon points="834.71,957.59 843.06,972.05 826.36,972.05"/><polygon points="849.38,954.45 857.74,968.91 841.03,968.91"/><polygon points="864.06,951.31 872.41,965.77 855.71,965.77"/><polygon points="878.74,948.17 887.09,962.63 870.39,962.63"/><polygon points="893.42,945.66 901.77,960.12 885.07,960.12"/><polygon points="908.09,942.52 916.44,956.98 899.74,956.98"/><polygon points="922.77,938.44 931.12,952.9 914.42,952.9"/><polygon points="937.45,933.1 945.8,947.56 929.1,947.56"/><polygon points="952.12,930.59 960.47,945.05 943.77,945.05"/><polygon points="966.8,927.45 975.15,941.91 958.45,941.91"/><polygon points="981.48,924.31 989.83,938.77 973.13,938.77"/><polygon points="996.15,920.86 1004.51,935.32 987.8,935.32"/><polygon points="1010.83,917.41 1019.18,931.87 1002.48,931.87"/><polygon points="1025.51,913.64 1033.86,928.1 1017.16,928.1"/><polygon points="1040.19,909.87 1048.54,924.34 1031.84,924.34"/><polygon points="1054.86,906.73 1063.21,921.2 1046.51,921.2"/><polygon points="1069.54,902.97 1077.89,917.43 1061.19,917.43"/><polygon points="1084.22,898.57 1092.57,913.04 1075.87,913.04"/><polygon points="1098.89,894.81 1107.24,909.27 1090.54,909.27"/><polygon points="1113.57,889.78 1121.92,904.25 1105.22,904.25"/><polygon points="1128.25,886.02 1136.6,900.48 1119.9,900.48"/><polygon points="1142.92,882.25 1151.28,896.71 1134.57,896.71"/><polygon points="1157.6,879.11 1165.95,893.57 1149.25,893.57"/><polygon points="1172.28,874.72 1180.63,889.18 1163.93,889.18"/><polygon points="1186.96,869.07 1195.31,883.53 1178.61,883.53"/><polygon points="1201.63,859.65 1209.98,874.11 1193.28,874.11"/><polygon points="1216.31,856.51 1224.66,870.97 1207.96,870.97"/></g>
</g>
<clipPath id="clipe"><rect x="101.5" y="1171.7" width="482.8" height="343.7"/></clipPath>
<g clip-path="url(#clipe)">
<polyline points="143.73,1498.46 165.76,1494.69 187.79,1490.92 209.82,1487.15 231.85,1483.38 253.88,1479.61 275.91,1475.22 297.94,1471.45 319.97,1467.05 342,1462.65 364.03,1457.63 386.06,1453.23 408.09,1448.2 430.12,1442.55 452.15,1436.9 474.18,1430.61 496.21,1424.33 518.24,1421.19 540.27,1416.79 562.3,1404.86" stroke="#514d4c" stroke-width="3.4" fill="none" stroke-linejoin="round"/>
<polyline points="143.73,1495.69 165.76,1485.89 187.79,1480.87 209.82,1456.37 231.85,1446.95 253.88,1434.38 275.91,1422.45 297.94,1416.16 319.97,1410.51 342,1365.91 364.03,1357.11 386.06,1350.83 408.09,1338.27 430.12,1340.15 452.15,1313.14 474.18,1244.67 496.21,1240.9 518.24,1247.81 540.27,1246.55 562.3,1232.73" stroke="#514d4c" stroke-width="3.4" fill="none" stroke-linejoin="round" stroke-dasharray="7.2,7.8"/>
<polyline points="143.73,1496.57 165.76,1492.81 187.79,1489.04 209.82,1485.27 231.85,1481.5 253.88,1477.73 275.91,1473.33 297.94,1469.56 319.97,1465.16 342,1460.77 364.03,1455.74 386.06,1451.34 408.09,1446.32 430.12,1440.66 452.15,1435.01 474.18,1428.73 496.21,1422.45 518.24,1416.79 540.27,1411.14 562.3,1405.49" stroke="#7a9bd2" stroke-width="3.4" fill="none" stroke-linejoin="round"/>
<polyline points="143.73,1497.2 165.76,1493.43 187.79,1489.66 209.82,1485.89 231.85,1482.75 253.88,1478.98 275.91,1474.59 297.94,1470.5 319.97,1467.05 342,1458.25 364.03,1454.8 386.06,1450.4 408.09,1445.69 430.12,1441.29 452.15,1436.9 474.18,1433.13 496.21,1428.73 518.24,1417.42 540.27,1409.25 562.3,1403.6" stroke="#7a9bd2" stroke-width="3.4" fill="none" stroke-linejoin="round" stroke-dasharray="7.2,7.8"/>
<g fill="#514d4c"><circle cx="143.73" cy="1498.46" r="6.2"/><circle cx="165.76" cy="1494.69" r="6.2"/><circle cx="187.79" cy="1490.92" r="6.2"/><circle cx="209.82" cy="1487.15" r="6.2"/><circle cx="231.85" cy="1483.38" r="6.2"/><circle cx="253.88" cy="1479.61" r="6.2"/><circle cx="275.91" cy="1475.22" r="6.2"/><circle cx="297.94" cy="1471.45" r="6.2"/><circle cx="319.97" cy="1467.05" r="6.2"/><circle cx="342" cy="1462.65" r="6.2"/><circle cx="364.03" cy="1457.63" r="6.2"/><circle cx="386.06" cy="1453.23" r="6.2"/><circle cx="408.09" cy="1448.2" r="6.2"/><circle cx="430.12" cy="1442.55" r="6.2"/><circle cx="452.15" cy="1436.9" r="6.2"/><circle cx="474.18" cy="1430.61" r="6.2"/><circle cx="496.21" cy="1424.33" r="6.2"/><circle cx="518.24" cy="1421.19" r="6.2"/><circle cx="540.27" cy="1416.79" r="6.2"/><circle cx="562.3" cy="1404.86" r="6.2"/></g>
<g fill="#514d4c"><polygon points="143.73,1486.05 152.08,1500.52 135.38,1500.52"/><polygon points="165.76,1476.25 174.11,1490.72 157.41,1490.72"/><polygon points="187.79,1471.23 196.14,1485.69 179.44,1485.69"/><polygon points="209.82,1446.73 218.17,1461.19 201.47,1461.19"/><polygon points="231.85,1437.3 240.2,1451.77 223.5,1451.77"/><polygon points="253.88,1424.74 262.23,1439.2 245.53,1439.2"/><polygon points="275.91,1412.81 284.26,1427.27 267.56,1427.27"/><polygon points="297.94,1406.52 306.29,1420.99 289.59,1420.99"/><polygon points="319.97,1400.87 328.32,1415.33 311.62,1415.33"/><polygon points="342,1356.27 350.35,1370.73 333.65,1370.73"/><polygon points="364.03,1347.47 372.38,1361.94 355.68,1361.94"/><polygon points="386.06,1341.19 394.41,1355.65 377.71,1355.65"/><polygon points="408.09,1328.63 416.44,1343.09 399.74,1343.09"/><polygon points="430.12,1330.51 438.47,1344.97 421.77,1344.97"/><polygon points="452.15,1303.5 460.5,1317.96 443.8,1317.96"/><polygon points="474.18,1235.02 482.53,1249.49 465.83,1249.49"/><polygon points="496.21,1231.26 504.56,1245.72 487.86,1245.72"/><polygon points="518.24,1238.17 526.59,1252.63 509.89,1252.63"/><polygon points="540.27,1236.91 548.62,1251.37 531.92,1251.37"/><polygon points="562.3,1223.09 570.65,1237.55 553.95,1237.55"/></g>
<g fill="#7a9bd2"><circle cx="143.73" cy="1496.57" r="6.2"/><circle cx="165.76" cy="1492.81" r="6.2"/><circle cx="187.79" cy="1489.04" r="6.2"/><circle cx="209.82" cy="1485.27" r="6.2"/><circle cx="231.85" cy="1481.5" r="6.2"/><circle cx="253.88" cy="1477.73" r="6.2"/><circle cx="275.91" cy="1473.33" r="6.2"/><circle cx="297.94" cy="1469.56" r="6.2"/><circle cx="319.97" cy="1465.16" r="6.2"/><circle cx="342" cy="1460.77" r="6.2"/><circle cx="364.03" cy="1455.74" r="6.2"/><circle cx="386.06" cy="1451.34" r="6.2"/><circle cx="408.09" cy="1446.32" r="6.2"/><circle cx="430.12" cy="1440.66" r="6.2"/><circle cx="452.15" cy="1435.01" r="6.2"/><circle cx="474.18" cy="1428.73" r="6.2"/><circle cx="496.21" cy="1422.45" r="6.2"/><circle cx="518.24" cy="1416.79" r="6.2"/><circle cx="540.27" cy="1411.14" r="6.2"/><circle cx="562.3" cy="1405.49" r="6.2"/></g>
<g fill="#7a9bd2"><polygon points="143.73,1487.56 152.08,1502.02 135.38,1502.02"/><polygon points="165.76,1483.79 174.11,1498.25 157.41,1498.25"/><polygon points="187.79,1480.02 196.14,1494.49 179.44,1494.49"/><polygon points="209.82,1476.25 218.17,1490.72 201.47,1490.72"/><polygon points="231.85,1473.11 240.2,1487.58 223.5,1487.58"/><polygon points="253.88,1469.34 262.23,1483.81 245.53,1483.81"/><polygon points="275.91,1464.95 284.26,1479.41 267.56,1479.41"/><polygon points="297.94,1460.86 306.29,1475.33 289.59,1475.33"/><polygon points="319.97,1457.41 328.32,1471.87 311.62,1471.87"/><polygon points="342,1448.61 350.35,1463.08 333.65,1463.08"/><polygon points="364.03,1445.16 372.38,1459.62 355.68,1459.62"/><polygon points="386.06,1440.76 394.41,1455.22 377.71,1455.22"/><polygon points="408.09,1436.05 416.44,1450.51 399.74,1450.51"/><polygon points="430.12,1431.65 438.47,1446.11 421.77,1446.11"/><polygon points="452.15,1427.25 460.5,1441.72 443.8,1441.72"/><polygon points="474.18,1423.48 482.53,1437.95 465.83,1437.95"/><polygon points="496.21,1419.09 504.56,1433.55 487.86,1433.55"/><polygon points="518.24,1407.78 526.59,1422.24 509.89,1422.24"/><polygon points="540.27,1399.61 548.62,1414.08 531.92,1414.08"/><polygon points="562.3,1393.96 570.65,1408.42 553.95,1408.42"/></g>
</g>
<clipPath id="clipf"><rect x="755.8" y="1172" width="482.9" height="343.4"/></clipPath>
<g clip-path="url(#clipf)">
<polyline points="790.68,1497.83 805.35,1494.55 820.03,1491.27 834.71,1487.99 849.38,1484.71 864.06,1481.43 878.74,1478.15 893.42,1474.87 908.09,1471.59 922.77,1468.31 937.45,1465.1 952.12,1461.9 966.8,1458.69 981.48,1455.49 996.15,1452.29 1010.83,1448.83 1025.51,1445.38 1040.19,1441.92 1054.86,1438.47 1069.54,1435.01 1084.22,1430.91 1098.89,1426.8 1113.57,1422.7 1128.25,1418.22 1142.92,1413.74 1157.6,1409.25 1172.28,1405.17 1186.96,1401.09 1201.63,1397 1216.31,1392.92" stroke="#514d4c" stroke-width="3.4" fill="none" stroke-linejoin="round"/>
<polyline points="790.68,1498.54 805.35,1495.96 820.03,1493.39 834.71,1490.82 849.38,1488.24 864.06,1485.67 878.74,1483.09 893.42,1480.52 908.09,1477.24 922.77,1473.96 937.45,1470.76 952.12,1467.55 966.8,1464.35 981.48,1461.14 996.15,1457.94 1010.83,1454.48 1025.51,1451.03 1040.19,1447.57 1054.86,1444.12 1069.54,1440.66 1084.22,1436.56 1098.89,1432.46 1113.57,1428.35 1128.25,1423.87 1142.92,1419.39 1157.6,1414.91 1172.28,1410.83 1186.96,1404.23 1201.63,1397 1216.31,1392.92" stroke="#514d4c" stroke-width="3.4" fill="none" stroke-linejoin="round" stroke-dasharray="7.2,7.8"/>
<polyline points="790.68,1498.46 805.35,1495.39 820.03,1492.32 834.71,1489.25 849.38,1486.17 864.06,1483.1 878.74,1480.03 893.42,1476.96 908.09,1473.89 922.77,1470.82 937.45,1467.8 952.12,1464.79 966.8,1461.77 981.48,1458.76 996.15,1455.74 1010.83,1452.35 1025.51,1448.96 1040.19,1445.56 1054.86,1442.17 1069.54,1438.78 1084.22,1434.59 1098.89,1430.4 1113.57,1426.22 1128.25,1422.87 1142.92,1419.52 1157.6,1416.16 1172.28,1411.92 1186.96,1407.68 1201.63,1403.44 1216.31,1399.2" stroke="#7a9bd2" stroke-width="3.4" fill="none" stroke-linejoin="round"/>
<polyline points="790.68,1499.09 805.35,1496.16 820.03,1493.22 834.71,1490.29 849.38,1487.36 864.06,1484.43 878.74,1481.5 893.42,1478.57 908.09,1475.63 922.77,1472.7 937.45,1469.56 952.12,1466.42 966.8,1463.28 981.48,1460.14 996.15,1457 1010.83,1453.86 1025.51,1450.72 1040.19,1447.57 1054.86,1444.43 1069.54,1441.29 1084.22,1438.15 1098.89,1435.01 1113.57,1431.87 1128.25,1428.1 1142.92,1424.33 1157.6,1420.56 1172.28,1415.85 1186.96,1411.14 1201.63,1406.43 1216.31,1401.72" stroke="#7a9bd2" stroke-width="3.4" fill="none" stroke-linejoin="round" stroke-dasharray="7.2,7.8"/>
<g fill="#514d4c"><circle cx="790.68" cy="1497.83" r="6.2"/><circle cx="805.35" cy="1494.55" r="6.2"/><circle cx="820.03" cy="1491.27" r="6.2"/><circle cx="834.71" cy="1487.99" r="6.2"/><circle cx="849.38" cy="1484.71" r="6.2"/><circle cx="864.06" cy="1481.43" r="6.2"/><circle cx="878.74" cy="1478.15" r="6.2"/><circle cx="893.42" cy="1474.87" r="6.2"/><circle cx="908.09" cy="1471.59" r="6.2"/><circle cx="922.77" cy="1468.31" r="6.2"/><circle cx="937.45" cy="1465.1" r="6.2"/><circle cx="952.12" cy="1461.9" r="6.2"/><circle cx="966.8" cy="1458.69" r="6.2"/><circle cx="981.48" cy="1455.49" r="6.2"/><circle cx="996.15" cy="1452.29" r="6.2"/><circle cx="1010.83" cy="1448.83" r="6.2"/><circle cx="1025.51" cy="1445.38" r="6.2"/><circle cx="1040.19" cy="1441.92" r="6.2"/><circle cx="1054.86" cy="1438.47" r="6.2"/><circle cx="1069.54" cy="1435.01" r="6.2"/><circle cx="1084.22" cy="1430.91" r="6.2"/><circle cx="1098.89" cy="1426.8" r="6.2"/><circle cx="1113.57" cy="1422.7" r="6.2"/><circle cx="1128.25" cy="1418.22" r="6.2"/><circle cx="1142.92" cy="1413.74" r="6.2"/><circle cx="1157.6" cy="1409.25" r="6.2"/><circle cx="1172.28" cy="1405.17" r="6.2"/><circle cx="1186.96" cy="1401.09" r="6.2"/><circle cx="1201.63" cy="1397" r="6.2"/><circle cx="1216.31" cy="1392.92" r="6.2"/></g>
<g fill="#514d4c"><polygon points="790.68,1488.9 799.03,1503.36 782.33,1503.36"/><polygon points="805.35,1486.32 813.7,1500.78 797,1500.78"/><polygon points="820.03,1483.75 828.38,1498.21 811.68,1498.21"/><polygon points="834.71,1481.17 843.06,1495.64 826.36,1495.64"/><polygon points="849.38,1478.6 857.74,1493.06 841.03,1493.06"/><polygon points="864.06,1476.03 872.41,1490.49 855.71,1490.49"/><polygon points="878.74,1473.45 887.09,1487.92 870.39,1487.92"/><polygon points="893.42,1470.88 901.77,1485.34 885.07,1485.34"/><polygon points="908.09,1467.6 916.44,1482.06 899.74,1482.06"/><polygon points="922.77,1464.32 931.12,1478.78 914.42,1478.78"/><polygon points="937.45,1461.11 945.8,1475.58 929.1,1475.58"/><polygon points="952.12,1457.91 960.47,1472.37 943.77,1472.37"/><polygon points="966.8,1454.71 975.15,1469.17 958.45,1469.17"/><polygon points="981.48,1451.5 989.83,1465.97 973.13,1465.97"/><polygon points="996.15,1448.3 1004.51,1462.76 987.8,1462.76"/><polygon points="1010.83,1444.84 1019.18,1459.31 1002.48,1459.31"/><polygon points="1025.51,1441.39 1033.86,1455.85 1017.16,1455.85"/><polygon points="1040.19,1437.93 1048.54,1452.4 1031.84,1452.4"/><polygon points="1054.86,1434.48 1063.21,1448.94 1046.51,1448.94"/><polygon points="1069.54,1431.02 1077.89,1445.49 1061.19,1445.49"/><polygon points="1084.22,1426.92 1092.57,1441.38 1075.87,1441.38"/><polygon points="1098.89,1422.81 1107.24,1437.28 1090.54,1437.28"/><polygon points="1113.57,1418.71 1121.92,1433.17 1105.22,1433.17"/><polygon points="1128.25,1414.23 1136.6,1428.69 1119.9,1428.69"/><polygon points="1142.92,1409.75 1151.28,1424.21 1134.57,1424.21"/><polygon points="1157.6,1405.27 1165.95,1419.73 1149.25,1419.73"/><polygon points="1172.28,1401.18 1180.63,1415.65 1163.93,1415.65"/><polygon points="1186.96,1394.59 1195.31,1409.05 1178.61,1409.05"/><polygon points="1201.63,1387.36 1209.98,1401.83 1193.28,1401.83"/><polygon points="1216.31,1383.28 1224.66,1397.74 1207.96,1397.74"/></g>
<g fill="#7a9bd2"><circle cx="790.68" cy="1498.46" r="6.2"/><circle cx="805.35" cy="1495.39" r="6.2"/><circle cx="820.03" cy="1492.32" r="6.2"/><circle cx="834.71" cy="1489.25" r="6.2"/><circle cx="849.38" cy="1486.17" r="6.2"/><circle cx="864.06" cy="1483.1" r="6.2"/><circle cx="878.74" cy="1480.03" r="6.2"/><circle cx="893.42" cy="1476.96" r="6.2"/><circle cx="908.09" cy="1473.89" r="6.2"/><circle cx="922.77" cy="1470.82" r="6.2"/><circle cx="937.45" cy="1467.8" r="6.2"/><circle cx="952.12" cy="1464.79" r="6.2"/><circle cx="966.8" cy="1461.77" r="6.2"/><circle cx="981.48" cy="1458.76" r="6.2"/><circle cx="996.15" cy="1455.74" r="6.2"/><circle cx="1010.83" cy="1452.35" r="6.2"/><circle cx="1025.51" cy="1448.96" r="6.2"/><circle cx="1040.19" cy="1445.56" r="6.2"/><circle cx="1054.86" cy="1442.17" r="6.2"/><circle cx="1069.54" cy="1438.78" r="6.2"/><circle cx="1084.22" cy="1434.59" r="6.2"/><circle cx="1098.89" cy="1430.4" r="6.2"/><circle cx="1113.57" cy="1426.22" r="6.2"/><circle cx="1128.25" cy="1422.87" r="6.2"/><circle cx="1142.92" cy="1419.52" r="6.2"/><circle cx="1157.6" cy="1416.16" r="6.2"/><circle cx="1172.28" cy="1411.92" r="6.2"/><circle cx="1186.96" cy="1407.68" r="6.2"/><circle cx="1201.63" cy="1403.44" r="6.2"/><circle cx="1216.31" cy="1399.2" r="6.2"/></g>
<g fill="#7a9bd2"><polygon points="790.68,1489.45 799.03,1503.91 782.33,1503.91"/><polygon points="805.35,1486.51 813.7,1500.98 797,1500.98"/><polygon points="820.03,1483.58 828.38,1498.05 811.68,1498.05"/><polygon points="834.71,1480.65 843.06,1495.11 826.36,1495.11"/><polygon points="849.38,1477.72 857.74,1492.18 841.03,1492.18"/><polygon points="864.06,1474.79 872.41,1489.25 855.71,1489.25"/><polygon points="878.74,1471.86 887.09,1486.32 870.39,1486.32"/><polygon points="893.42,1468.92 901.77,1483.39 885.07,1483.39"/><polygon points="908.09,1465.99 916.44,1480.46 899.74,1480.46"/><polygon points="922.77,1463.06 931.12,1477.52 914.42,1477.52"/><polygon points="937.45,1459.92 945.8,1474.38 929.1,1474.38"/><polygon points="952.12,1456.78 960.47,1471.24 943.77,1471.24"/><polygon points="966.8,1453.64 975.15,1468.1 958.45,1468.1"/><polygon points="981.48,1450.5 989.83,1464.96 973.13,1464.96"/><polygon points="996.15,1447.36 1004.51,1461.82 987.8,1461.82"/><polygon points="1010.83,1444.22 1019.18,1458.68 1002.48,1458.68"/><polygon points="1025.51,1441.07 1033.86,1455.54 1017.16,1455.54"/><polygon points="1040.19,1437.93 1048.54,1452.4 1031.84,1452.4"/><polygon points="1054.86,1434.79 1063.21,1449.25 1046.51,1449.25"/><polygon points="1069.54,1431.65 1077.89,1446.11 1061.19,1446.11"/><polygon points="1084.22,1428.51 1092.57,1442.97 1075.87,1442.97"/><polygon points="1098.89,1425.37 1107.24,1439.83 1090.54,1439.83"/><polygon points="1113.57,1422.23 1121.92,1436.69 1105.22,1436.69"/><polygon points="1128.25,1418.46 1136.6,1432.92 1119.9,1432.92"/><polygon points="1142.92,1414.69 1151.28,1429.15 1134.57,1429.15"/><polygon points="1157.6,1410.92 1165.95,1425.38 1149.25,1425.38"/><polygon points="1172.28,1406.21 1180.63,1420.67 1163.93,1420.67"/><polygon points="1186.96,1401.5 1195.31,1415.96 1178.61,1415.96"/><polygon points="1201.63,1396.79 1209.98,1411.25 1193.28,1411.25"/><polygon points="1216.31,1392.07 1224.66,1406.54 1207.96,1406.54"/></g>
</g>
<line x1="99.85" y1="464.8" x2="108.85" y2="464.8" stroke="#2f2b29" stroke-width="3.4"/>
<text x="92.35" y="474.4" font-size="27" font-weight="normal" font-style="normal" text-anchor="end" fill="#3f3a38" font-family='"Liberation Sans", sans-serif'>-50</text>
<line x1="99.85" y1="386.4" x2="108.85" y2="386.4" stroke="#2f2b29" stroke-width="3.4"/>
<text x="92.35" y="396" font-size="27" font-weight="normal" font-style="normal" text-anchor="end" fill="#3f3a38" font-family='"Liberation Sans", sans-serif'>-25</text>
<line x1="99.85" y1="308" x2="108.85" y2="308" stroke="#2f2b29" stroke-width="3.4"/>
<text x="92.35" y="317.6" font-size="27" font-weight="normal" font-style="normal" text-anchor="end" fill="#3f3a38" font-family='"Liberation Sans", sans-serif'>0</text>
<line x1="99.85" y1="229.6" x2="108.85" y2="229.6" stroke="#2f2b29" stroke-width="3.4"/>
<text x="92.35" y="239.2" font-size="27" font-weight="normal" font-style="normal" text-anchor="end" fill="#3f3a38" font-family='"Liberation Sans", sans-serif'>25</text>
<line x1="99.85" y1="151.2" x2="108.85" y2="151.2" stroke="#2f2b29" stroke-width="3.4"/>
<text x="92.35" y="160.8" font-size="27" font-weight="normal" font-style="normal" text-anchor="end" fill="#3f3a38" font-family='"Liberation Sans", sans-serif'>50</text>
<line x1="130.2" y1="481.2" x2="130.2" y2="489.7" stroke="#2f2b29" stroke-width="3.4"/>
<text x="130.2" y="517" font-size="27" font-weight="normal" font-style="normal" text-anchor="middle" fill="#3f3a38" font-family='"Liberation Sans", sans-serif'>0</text>
<line x1="238.32" y1="481.2" x2="238.32" y2="489.7" stroke="#2f2b29" stroke-width="3.4"/>
<text x="238.32" y="517" font-size="27" font-weight="normal" font-style="normal" text-anchor="middle" fill="#3f3a38" font-family='"Liberation Sans", sans-serif'>5</text>
<line x1="346.45" y1="481.2" x2="346.45" y2="489.7" stroke="#2f2b29" stroke-width="3.4"/>
<text x="346.45" y="517" font-size="27" font-weight="normal" font-style="normal" text-anchor="middle" fill="#3f3a38" font-family='"Liberation Sans", sans-serif'>10</text>
<line x1="454.57" y1="481.2" x2="454.57" y2="489.7" stroke="#2f2b29" stroke-width="3.4"/>
<text x="454.57" y="517" font-size="27" font-weight="normal" font-style="normal" text-anchor="middle" fill="#3f3a38" font-family='"Liberation Sans", sans-serif'>15</text>
<line x1="562.7" y1="481.2" x2="562.7" y2="489.7" stroke="#2f2b29" stroke-width="3.4"/>
<text x="562.7" y="517" font-size="27" font-weight="normal" font-style="normal" text-anchor="middle" fill="#3f3a38" font-family='"Liberation Sans", sans-serif'>20</text>
<line x1="108.85" y1="136" x2="108.85" y2="483" stroke="#000" stroke-width="3.6"/>
<line x1="107.05" y1="481.2" x2="584.3" y2="481.2" stroke="#000" stroke-width="3.4"/>
<line x1="754.2" y1="464.8" x2="763.2" y2="464.8" stroke="#2f2b29" stroke-width="3.4"/>
<text x="746.7" y="474.4" font-size="27" font-weight="normal" font-style="normal" text-anchor="end" fill="#3f3a38" font-family='"Liberation Sans", sans-serif'>-50</text>
<line x1="754.2" y1="386.4" x2="763.2" y2="386.4" stroke="#2f2b29" stroke-width="3.4"/>
<text x="746.7" y="396" font-size="27" font-weight="normal" font-style="normal" text-anchor="end" fill="#3f3a38" font-family='"Liberation Sans", sans-serif'>-25</text>
<line x1="754.2" y1="308" x2="763.2" y2="308" stroke="#2f2b29" stroke-width="3.4"/>
<text x="746.7" y="317.6" font-size="27" font-weight="normal" font-style="normal" text-anchor="end" fill="#3f3a38" font-family='"Liberation Sans", sans-serif'>0</text>
<line x1="754.2" y1="229.6" x2="763.2" y2="229.6" stroke="#2f2b29" stroke-width="3.4"/>
<text x="746.7" y="239.2" font-size="27" font-weight="normal" font-style="normal" text-anchor="end" fill="#3f3a38" font-family='"Liberation Sans", sans-serif'>25</text>
<line x1="754.2" y1="151.2" x2="763.2" y2="151.2" stroke="#2f2b29" stroke-width="3.4"/>
<text x="746.7" y="160.8" font-size="27" font-weight="normal" font-style="normal" text-anchor="end" fill="#3f3a38" font-family='"Liberation Sans", sans-serif'>50</text>
<line x1="784.5" y1="481.1" x2="784.5" y2="489.6" stroke="#2f2b29" stroke-width="3.4"/>
<text x="784.5" y="516.9" font-size="27" font-weight="normal" font-style="normal" text-anchor="middle" fill="#3f3a38" font-family='"Liberation Sans", sans-serif'>0</text>
<line x1="928.63" y1="481.1" x2="928.63" y2="489.6" stroke="#2f2b29" stroke-width="3.4"/>
<text x="928.63" y="516.9" font-size="27" font-weight="normal" font-style="normal" text-anchor="middle" fill="#3f3a38" font-family='"Liberation Sans", sans-serif'>10</text>
<line x1="1072.76" y1="481.1" x2="1072.76" y2="489.6" stroke="#2f2b29" stroke-width="3.4"/>
<text x="1072.76" y="516.9" font-size="27" font-weight="normal" font-style="normal" text-anchor="middle" fill="#3f3a38" font-family='"Liberation Sans", sans-serif'>20</text>
<line x1="1216.89" y1="481.1" x2="1216.89" y2="489.6" stroke="#2f2b29" stroke-width="3.4"/>
<text x="1216.89" y="516.9" font-size="27" font-weight="normal" font-style="normal" text-anchor="middle" fill="#3f3a38" font-family='"Liberation Sans", sans-serif'>30</text>
<line x1="763.2" y1="135.9" x2="763.2" y2="482.9" stroke="#000" stroke-width="3.6"/>
<line x1="761.4" y1="481.1" x2="1238.7" y2="481.1" stroke="#000" stroke-width="3.4"/>
<line x1="90.7" y1="983.55" x2="99.7" y2="983.55" stroke="#2f2b29" stroke-width="3.4"/>
<text x="83.2" y="993.15" font-size="27" font-weight="normal" font-style="normal" text-anchor="end" fill="#3f3a38" font-family='"Liberation Sans", sans-serif'>0</text>
<line x1="90.7" y1="920.77" x2="99.7" y2="920.77" stroke="#2f2b29" stroke-width="3.4"/>
<text x="83.2" y="930.37" font-size="27" font-weight="normal" font-style="normal" text-anchor="end" fill="#3f3a38" font-family='"Liberation Sans", sans-serif'>10</text>
<line x1="90.7" y1="857.99" x2="99.7" y2="857.99" stroke="#2f2b29" stroke-width="3.4"/>
<text x="83.2" y="867.59" font-size="27" font-weight="normal" font-style="normal" text-anchor="end" fill="#3f3a38" font-family='"Liberation Sans", sans-serif'>20</text>
<line x1="90.7" y1="795.21" x2="99.7" y2="795.21" stroke="#2f2b29" stroke-width="3.4"/>
<text x="83.2" y="804.81" font-size="27" font-weight="normal" font-style="normal" text-anchor="end" fill="#3f3a38" font-family='"Liberation Sans", sans-serif'>30</text>
<line x1="90.7" y1="732.43" x2="99.7" y2="732.43" stroke="#2f2b29" stroke-width="3.4"/>
<text x="83.2" y="742.03" font-size="27" font-weight="normal" font-style="normal" text-anchor="end" fill="#3f3a38" font-family='"Liberation Sans", sans-serif'>40</text>
<line x1="90.7" y1="669.65" x2="99.7" y2="669.65" stroke="#2f2b29" stroke-width="3.4"/>
<text x="83.2" y="679.25" font-size="27" font-weight="normal" font-style="normal" text-anchor="end" fill="#3f3a38" font-family='"Liberation Sans", sans-serif'>50</text>
<line x1="121.7" y1="999.2" x2="121.7" y2="1007.7" stroke="#2f2b29" stroke-width="3.4"/>
<text x="121.7" y="1035" font-size="27" font-weight="normal" font-style="normal" text-anchor="middle" fill="#3f3a38" font-family='"Liberation Sans", sans-serif'>0</text>
<line x1="231.85" y1="999.2" x2="231.85" y2="1007.7" stroke="#2f2b29" stroke-width="3.4"/>
<text x="231.85" y="1035" font-size="27" font-weight="normal" font-style="normal" text-anchor="middle" fill="#3f3a38" font-family='"Liberation Sans", sans-serif'>5</text>
<line x1="342" y1="999.2" x2="342" y2="1007.7" stroke="#2f2b29" stroke-width="3.4"/>
<text x="342" y="1035" font-size="27" font-weight="normal" font-style="normal" text-anchor="middle" fill="#3f3a38" font-family='"Liberation Sans", sans-serif'>10</text>
<line x1="452.15" y1="999.2" x2="452.15" y2="1007.7" stroke="#2f2b29" stroke-width="3.4"/>
<text x="452.15" y="1035" font-size="27" font-weight="normal" font-style="normal" text-anchor="middle" fill="#3f3a38" font-family='"Liberation Sans", sans-serif'>15</text>
<line x1="562.3" y1="999.2" x2="562.3" y2="1007.7" stroke="#2f2b29" stroke-width="3.4"/>
<text x="562.3" y="1035" font-size="27" font-weight="normal" font-style="normal" text-anchor="middle" fill="#3f3a38" font-family='"Liberation Sans", sans-serif'>20</text>
<line x1="99.7" y1="653.7" x2="99.7" y2="1001" stroke="#000" stroke-width="3.6"/>
<line x1="97.9" y1="999.2" x2="584.3" y2="999.2" stroke="#000" stroke-width="3.4"/>
<line x1="745" y1="983.55" x2="754" y2="983.55" stroke="#2f2b29" stroke-width="3.4"/>
<text x="737.5" y="993.15" font-size="27" font-weight="normal" font-style="normal" text-anchor="end" fill="#3f3a38" font-family='"Liberation Sans", sans-serif'>0</text>
<line x1="745" y1="920.77" x2="754" y2="920.77" stroke="#2f2b29" stroke-width="3.4"/>
<text x="737.5" y="930.37" font-size="27" font-weight="normal" font-style="normal" text-anchor="end" fill="#3f3a38" font-family='"Liberation Sans", sans-serif'>10</text>
<line x1="745" y1="857.99" x2="754" y2="857.99" stroke="#2f2b29" stroke-width="3.4"/>
<text x="737.5" y="867.59" font-size="27" font-weight="normal" font-style="normal" text-anchor="end" fill="#3f3a38" font-family='"Liberation Sans", sans-serif'>20</text>
<line x1="745" y1="795.21" x2="754" y2="795.21" stroke="#2f2b29" stroke-width="3.4"/>
<text x="737.5" y="804.81" font-size="27" font-weight="normal" font-style="normal" text-anchor="end" fill="#3f3a38" font-family='"Liberation Sans", sans-serif'>30</text>
<line x1="745" y1="732.43" x2="754" y2="732.43" stroke="#2f2b29" stroke-width="3.4"/>
<text x="737.5" y="742.03" font-size="27" font-weight="normal" font-style="normal" text-anchor="end" fill="#3f3a38" font-family='"Liberation Sans", sans-serif'>40</text>
<line x1="745" y1="669.65" x2="754" y2="669.65" stroke="#2f2b29" stroke-width="3.4"/>
<text x="737.5" y="679.25" font-size="27" font-weight="normal" font-style="normal" text-anchor="end" fill="#3f3a38" font-family='"Liberation Sans", sans-serif'>50</text>
<line x1="776" y1="999.2" x2="776" y2="1007.7" stroke="#2f2b29" stroke-width="3.4"/>
<text x="776" y="1035" font-size="27" font-weight="normal" font-style="normal" text-anchor="middle" fill="#3f3a38" font-family='"Liberation Sans", sans-serif'>0</text>
<line x1="922.77" y1="999.2" x2="922.77" y2="1007.7" stroke="#2f2b29" stroke-width="3.4"/>
<text x="922.77" y="1035" font-size="27" font-weight="normal" font-style="normal" text-anchor="middle" fill="#3f3a38" font-family='"Liberation Sans", sans-serif'>10</text>
<line x1="1069.54" y1="999.2" x2="1069.54" y2="1007.7" stroke="#2f2b29" stroke-width="3.4"/>
<text x="1069.54" y="1035" font-size="27" font-weight="normal" font-style="normal" text-anchor="middle" fill="#3f3a38" font-family='"Liberation Sans", sans-serif'>20</text>
<line x1="1216.31" y1="999.2" x2="1216.31" y2="1007.7" stroke="#2f2b29" stroke-width="3.4"/>
<text x="1216.31" y="1035" font-size="27" font-weight="normal" font-style="normal" text-anchor="middle" fill="#3f3a38" font-family='"Liberation Sans", sans-serif'>30</text>
<line x1="754" y1="653.7" x2="754" y2="1001" stroke="#000" stroke-width="3.6"/>
<line x1="752.2" y1="999.2" x2="1238.7" y2="999.2" stroke="#000" stroke-width="3.4"/>
<line x1="90.7" y1="1501.6" x2="99.7" y2="1501.6" stroke="#2f2b29" stroke-width="3.4"/>
<text x="83.2" y="1511.2" font-size="27" font-weight="normal" font-style="normal" text-anchor="end" fill="#3f3a38" font-family='"Liberation Sans", sans-serif'>0</text>
<line x1="90.7" y1="1438.78" x2="99.7" y2="1438.78" stroke="#2f2b29" stroke-width="3.4"/>
<text x="83.2" y="1448.38" font-size="27" font-weight="normal" font-style="normal" text-anchor="end" fill="#3f3a38" font-family='"Liberation Sans", sans-serif'>10</text>
<line x1="90.7" y1="1375.96" x2="99.7" y2="1375.96" stroke="#2f2b29" stroke-width="3.4"/>
<text x="83.2" y="1385.56" font-size="27" font-weight="normal" font-style="normal" text-anchor="end" fill="#3f3a38" font-family='"Liberation Sans", sans-serif'>20</text>
<line x1="90.7" y1="1313.14" x2="99.7" y2="1313.14" stroke="#2f2b29" stroke-width="3.4"/>
<text x="83.2" y="1322.74" font-size="27" font-weight="normal" font-style="normal" text-anchor="end" fill="#3f3a38" font-family='"Liberation Sans", sans-serif'>30</text>
<line x1="90.7" y1="1250.32" x2="99.7" y2="1250.32" stroke="#2f2b29" stroke-width="3.4"/>
<text x="83.2" y="1259.92" font-size="27" font-weight="normal" font-style="normal" text-anchor="end" fill="#3f3a38" font-family='"Liberation Sans", sans-serif'>40</text>
<line x1="90.7" y1="1187.5" x2="99.7" y2="1187.5" stroke="#2f2b29" stroke-width="3.4"/>
<text x="83.2" y="1197.1" font-size="27" font-weight="normal" font-style="normal" text-anchor="end" fill="#3f3a38" font-family='"Liberation Sans", sans-serif'>50</text>
<line x1="121.7" y1="1517.1" x2="121.7" y2="1525.6" stroke="#2f2b29" stroke-width="3.4"/>
<text x="121.7" y="1552.9" font-size="27" font-weight="normal" font-style="normal" text-anchor="middle" fill="#3f3a38" font-family='"Liberation Sans", sans-serif'>0</text>
<line x1="231.85" y1="1517.1" x2="231.85" y2="1525.6" stroke="#2f2b29" stroke-width="3.4"/>
<text x="231.85" y="1552.9" font-size="27" font-weight="normal" font-style="normal" text-anchor="middle" fill="#3f3a38" font-family='"Liberation Sans", sans-serif'>5</text>
<line x1="342" y1="1517.1" x2="342" y2="1525.6" stroke="#2f2b29" stroke-width="3.4"/>
<text x="342" y="1552.9" font-size="27" font-weight="normal" font-style="normal" text-anchor="middle" fill="#3f3a38" font-family='"Liberation Sans", sans-serif'>10</text>
<line x1="452.15" y1="1517.1" x2="452.15" y2="1525.6" stroke="#2f2b29" stroke-width="3.4"/>
<text x="452.15" y="1552.9" font-size="27" font-weight="normal" font-style="normal" text-anchor="middle" fill="#3f3a38" font-family='"Liberation Sans", sans-serif'>15</text>
<line x1="562.3" y1="1517.1" x2="562.3" y2="1525.6" stroke="#2f2b29" stroke-width="3.4"/>
<text x="562.3" y="1552.9" font-size="27" font-weight="normal" font-style="normal" text-anchor="middle" fill="#3f3a38" font-family='"Liberation Sans", sans-serif'>20</text>
<line x1="99.7" y1="1171.7" x2="99.7" y2="1518.9" stroke="#000" stroke-width="3.6"/>
<line x1="97.9" y1="1517.1" x2="584.3" y2="1517.1" stroke="#000" stroke-width="3.4"/>
<line x1="745" y1="1501.6" x2="754" y2="1501.6" stroke="#2f2b29" stroke-width="3.4"/>
<text x="737.5" y="1511.2" font-size="27" font-weight="normal" font-style="normal" text-anchor="end" fill="#3f3a38" font-family='"Liberation Sans", sans-serif'>0</text>
<line x1="745" y1="1438.78" x2="754" y2="1438.78" stroke="#2f2b29" stroke-width="3.4"/>
<text x="737.5" y="1448.38" font-size="27" font-weight="normal" font-style="normal" text-anchor="end" fill="#3f3a38" font-family='"Liberation Sans", sans-serif'>10</text>
<line x1="745" y1="1375.96" x2="754" y2="1375.96" stroke="#2f2b29" stroke-width="3.4"/>
<text x="737.5" y="1385.56" font-size="27" font-weight="normal" font-style="normal" text-anchor="end" fill="#3f3a38" font-family='"Liberation Sans", sans-serif'>20</text>
<line x1="745" y1="1313.14" x2="754" y2="1313.14" stroke="#2f2b29" stroke-width="3.4"/>
<text x="737.5" y="1322.74" font-size="27" font-weight="normal" font-style="normal" text-anchor="end" fill="#3f3a38" font-family='"Liberation Sans", sans-serif'>30</text>
<line x1="745" y1="1250.32" x2="754" y2="1250.32" stroke="#2f2b29" stroke-width="3.4"/>
<text x="737.5" y="1259.92" font-size="27" font-weight="normal" font-style="normal" text-anchor="end" fill="#3f3a38" font-family='"Liberation Sans", sans-serif'>40</text>
<line x1="745" y1="1187.5" x2="754" y2="1187.5" stroke="#2f2b29" stroke-width="3.4"/>
<text x="737.5" y="1197.1" font-size="27" font-weight="normal" font-style="normal" text-anchor="end" fill="#3f3a38" font-family='"Liberation Sans", sans-serif'>50</text>
<line x1="776" y1="1517.1" x2="776" y2="1525.6" stroke="#2f2b29" stroke-width="3.4"/>
<text x="776" y="1552.9" font-size="27" font-weight="normal" font-style="normal" text-anchor="middle" fill="#3f3a38" font-family='"Liberation Sans", sans-serif'>0</text>
<line x1="922.77" y1="1517.1" x2="922.77" y2="1525.6" stroke="#2f2b29" stroke-width="3.4"/>
<text x="922.77" y="1552.9" font-size="27" font-weight="normal" font-style="normal" text-anchor="middle" fill="#3f3a38" font-family='"Liberation Sans", sans-serif'>10</text>
<line x1="1069.54" y1="1517.1" x2="1069.54" y2="1525.6" stroke="#2f2b29" stroke-width="3.4"/>
<text x="1069.54" y="1552.9" font-size="27" font-weight="normal" font-style="normal" text-anchor="middle" fill="#3f3a38" font-family='"Liberation Sans", sans-serif'>20</text>
<line x1="1216.31" y1="1517.1" x2="1216.31" y2="1525.6" stroke="#2f2b29" stroke-width="3.4"/>
<text x="1216.31" y="1552.9" font-size="27" font-weight="normal" font-style="normal" text-anchor="middle" fill="#3f3a38" font-family='"Liberation Sans", sans-serif'>30</text>
<line x1="754" y1="1172" x2="754" y2="1518.9" stroke="#000" stroke-width="3.6"/>
<line x1="752.2" y1="1517.1" x2="1238.7" y2="1517.1" stroke="#000" stroke-width="3.4"/>
<text x="347.4" y="556" font-size="34.5" font-weight="normal" font-style="normal" text-anchor="middle" fill="#000" font-family='"Liberation Sans", sans-serif'># of Nodes Removed</text>
<text x="1001.4" y="556" font-size="34.5" font-weight="normal" font-style="normal" text-anchor="middle" fill="#000" font-family='"Liberation Sans", sans-serif'># of Nodes Removed</text>
<text x="342.7" y="1074" font-size="34.5" font-weight="normal" font-style="normal" text-anchor="middle" fill="#000" font-family='"Liberation Sans", sans-serif'># of Nodes Removed</text>
<text x="996.8" y="1074.2" font-size="34.5" font-weight="normal" font-style="normal" text-anchor="middle" fill="#000" font-family='"Liberation Sans", sans-serif'># of Nodes Removed</text>
<text x="342.7" y="1591.6" font-size="34.5" font-weight="normal" font-style="normal" text-anchor="middle" fill="#000" font-family='"Liberation Sans", sans-serif'># of Nodes Removed</text>
<text x="996.8" y="1591.7" font-size="34.5" font-weight="normal" font-style="normal" text-anchor="middle" fill="#000" font-family='"Liberation Sans", sans-serif'># of Nodes Removed</text>
<g transform="translate(26.7,349) rotate(-90)">
<text x="0" y="0" font-size="32" font-family='"Liberation Serif", serif' fill="#000">&#916;</text>
<text x="23.1" y="0" font-size="32" font-family='"Liberation Sans", sans-serif' fill="#000">d (%)</text>
<rect x="23.8" y="-24.5" width="16.2" height="3.6" fill="#000"/>
</g>
<g transform="translate(686.2,349) rotate(-90)">
<text x="0" y="0" font-size="32" font-family='"Liberation Serif", serif' fill="#000">&#916;</text>
<text x="23.1" y="0" font-size="32" font-family='"Liberation Sans", sans-serif' fill="#000">d (%)</text>
<rect x="23.8" y="-24.5" width="16.2" height="3.6" fill="#000"/>
</g>
<g transform="translate(26.7,872.3) rotate(-90)">
<text x="0" y="0" font-size="32" font-family='"Liberation Serif", serif' fill="#000">&#916;</text>
<text x="23.1" y="0" font-size="32" font-family='"Liberation Sans", sans-serif' fill="#000">d (%)</text>
<rect x="23.8" y="-24.5" width="16.2" height="3.6" fill="#000"/>
</g>
<g transform="translate(686.2,872.3) rotate(-90)">
<text x="0" y="0" font-size="32" font-family='"Liberation Serif", serif' fill="#000">&#916;</text>
<text x="23.1" y="0" font-size="32" font-family='"Liberation Sans", sans-serif' fill="#000">d (%)</text>
<rect x="23.8" y="-24.5" width="16.2" height="3.6" fill="#000"/>
</g>
<g transform="translate(26.7,1391.5) rotate(-90)">
<text x="0" y="0" font-size="32" font-family='"Liberation Serif", serif' fill="#000">&#916;</text>
<text x="23.1" y="0" font-size="32" font-family='"Liberation Sans", sans-serif' fill="#000">d (%)</text>
<rect x="23.8" y="-24.5" width="16.2" height="3.6" fill="#000"/>
</g>
<g transform="translate(686.2,1391.5) rotate(-90)">
<text x="0" y="0" font-size="32" font-family='"Liberation Serif", serif' fill="#000">&#916;</text>
<text x="23.1" y="0" font-size="32" font-family='"Liberation Sans", sans-serif' fill="#000">d (%)</text>
<rect x="23.8" y="-24.5" width="16.2" height="3.6" fill="#000"/>
</g>
<circle cx="472" cy="747.5" r="16.2" fill="none" stroke="#9b2bb0" stroke-width="3"/>
<circle cx="451.5" cy="785.5" r="16.2" fill="none" stroke="#b27e24" stroke-width="3"/>
<circle cx="430.1" cy="820.1" r="16.2" fill="none" stroke="#4040a5" stroke-width="3"/>
<circle cx="143.7" cy="956.7" r="16.2" fill="none" stroke="#72cfe0" stroke-width="3"/>
<text x="444.9" y="755.7" font-size="28" font-weight="bold" font-style="normal" text-anchor="end" fill="#9b2bb0" font-family='"Liberation Sans", sans-serif'>Choline</text>
<text x="424.2" y="793.7" font-size="28" font-weight="bold" font-style="normal" text-anchor="end" fill="#b27e24" font-family='"Liberation Sans", sans-serif'>Isovalerate</text>
<text x="402.3" y="831.6" font-size="28" font-weight="bold" font-style="normal" text-anchor="end" fill="#4040a5" font-family='"Liberation Sans", sans-serif'>GMP</text>
<text x="527.5" y="990.8" font-size="28.25" font-weight="bold" font-style="normal" text-anchor="end" fill="#72cfe0" font-family='"Liberation Sans", sans-serif'>5-Aminopentanoic acid</text>
<circle cx="474.4" cy="1243.2" r="16.2" fill="none" stroke="#e5456e" stroke-width="3"/>
<circle cx="449.1" cy="1313.1" r="16.2" fill="none" stroke="#9b2bb0" stroke-width="3"/>
<circle cx="341.5" cy="1365" r="16.2" fill="none" stroke="#7dd35a" stroke-width="3"/>
<circle cx="207.8" cy="1451.7" r="16.2" fill="none" stroke="#72cfe0" stroke-width="3"/>
<text x="449.1" y="1249.6" font-size="28" font-weight="bold" font-style="normal" text-anchor="end" fill="#e5456e" font-family='"Liberation Sans", sans-serif'>Glutarate</text>
<text x="424.9" y="1318.3" font-size="28" font-weight="bold" font-style="normal" text-anchor="end" fill="#9b2bb0" font-family='"Liberation Sans", sans-serif'>Choline</text>
<text x="313.7" y="1371.7" font-size="28" font-weight="bold" font-style="normal" text-anchor="end" fill="#7dd35a" font-family='"Liberation Sans", sans-serif'>Carnitine</text>
<text x="534" y="1508.8" font-size="28.25" font-weight="bold" font-style="normal" text-anchor="end" fill="#72cfe0" font-family='"Liberation Sans", sans-serif'>5-Aminopentanoic acid</text>
<rect x="1155.8" y="1035.2" width="3.8" height="7.4" fill="#2a2624"/>
<rect x="1156.7" y="1574.7" width="3.0" height="7.0" fill="#2a2624"/>
<text x="1303" y="550.2" font-size="28" font-weight="bold" font-style="normal" text-anchor="start" fill="#000" font-family='"Liberation Sans", sans-serif'>Diet</text>
<line x1="1306.7" y1="588.5" x2="1370" y2="588.5" stroke="#000" stroke-width="4"/>
<circle cx="1338.2" cy="587.6" r="7.2" fill="#000"/>
<text x="1386" y="597" font-size="29" font-weight="normal" font-style="normal" text-anchor="start" fill="#000" font-family='"Liberation Sans", sans-serif'>FD</text>
<line x1="1306.2" y1="632.3" x2="1370.5" y2="632.3" stroke="#000" stroke-width="4" stroke-dasharray="8.4,6.6"/>
<polygon points="1338.2,622.7 1348.2,639.8 1328.2,639.8" fill="#000"/>
<text x="1385.4" y="640.4" font-size="29" font-weight="normal" font-style="normal" text-anchor="start" fill="#000" font-family='"Liberation Sans", sans-serif'>CD</text>
<text x="1303.5" y="732" font-size="28.3" font-weight="bold" font-style="normal" text-anchor="start" fill="#000" font-family='"Liberation Sans", sans-serif'>Genotype</text>
<line x1="1307" y1="770.5" x2="1369.8" y2="770.5" stroke="#514d4c" stroke-width="3.6"/>
<line x1="1307" y1="814" x2="1369.8" y2="814" stroke="#7a9bd2" stroke-width="3.6"/>
<text x="1388" y="778.5" font-size="28" font-weight="normal" font-style="italic" text-anchor="start" fill="#000" font-family='"Liberation Sans", sans-serif'>w</text>
<text x="1409.2" y="769.4" font-size="16.5" font-weight="normal" font-style="italic" text-anchor="start" fill="#000" font-family='"Liberation Sans", sans-serif' letter-spacing="0.8">1118</text>
<text x="1386.2" y="822" font-size="28.6" font-weight="normal" font-style="italic" text-anchor="start" fill="#000" font-family='"Liberation Sans", sans-serif'>5-HT2A</text>
<text x="1483.5" y="812.7" font-size="16.5" font-weight="normal" font-style="italic" text-anchor="start" fill="#000" font-family='"Liberation Sans", sans-serif'>-/-</text>
</svg>
</body></html>
